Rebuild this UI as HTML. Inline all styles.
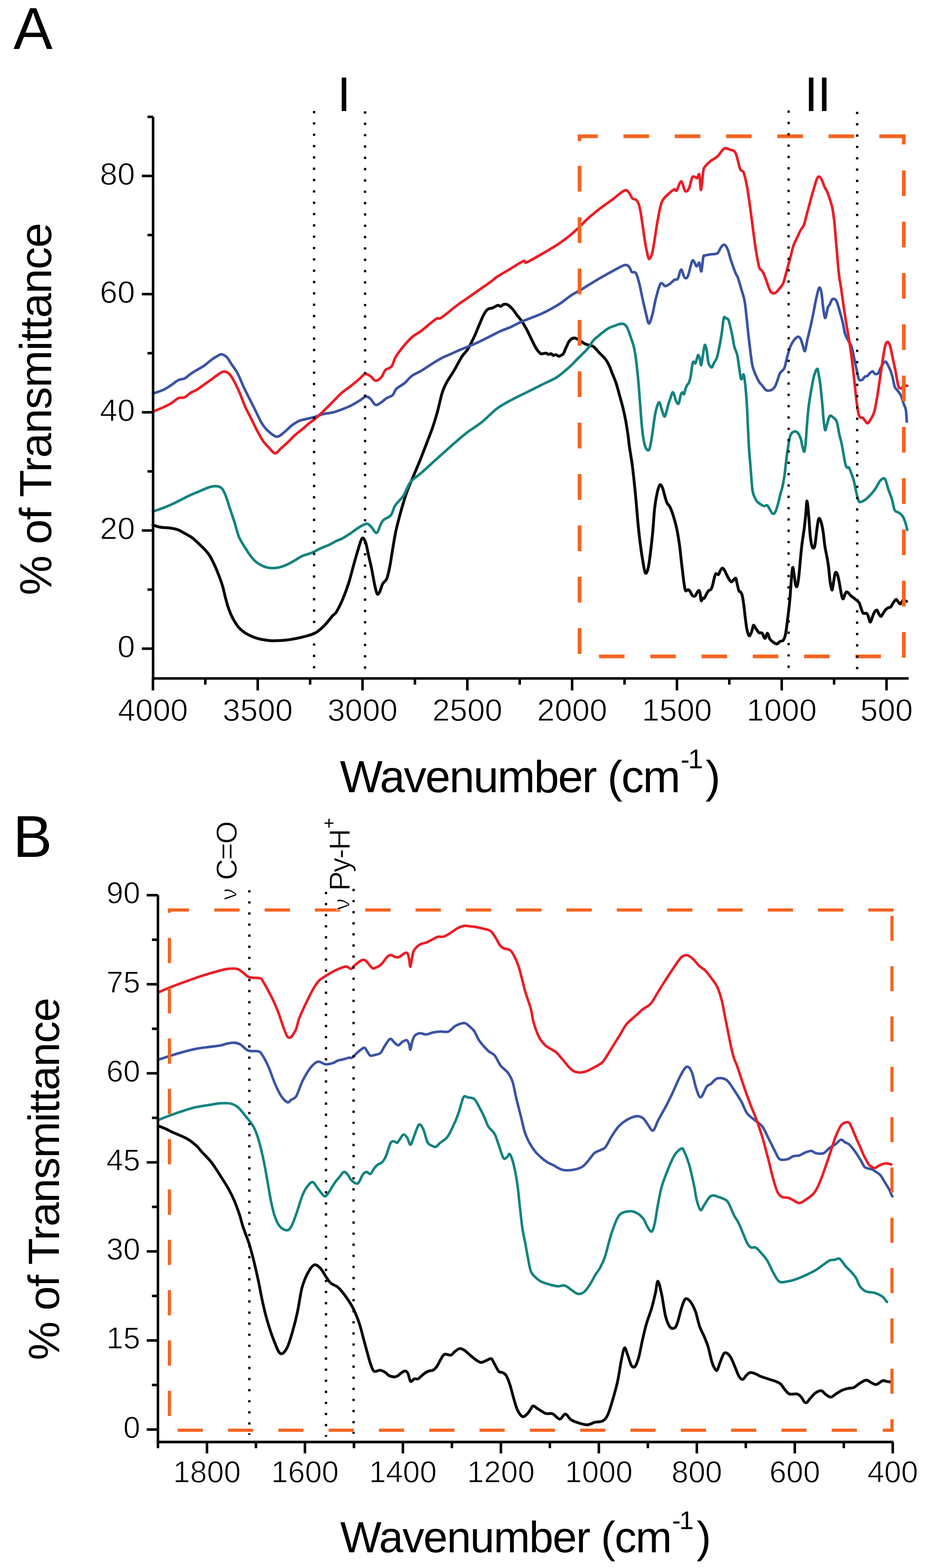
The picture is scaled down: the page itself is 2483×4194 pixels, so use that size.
<!DOCTYPE html>
<html><head><meta charset="utf-8"><title>FTIR spectra</title><style>html,body{margin:0;padding:0;background:#fff}svg{display:block}</style></head><body>
<svg xmlns="http://www.w3.org/2000/svg" width="2483" height="4194" viewBox="0 0 2483 4194">
<rect width="2483" height="4194" fill="#fff"/>
<path d="M409.0 1404.0 C412.4 1405.1 421.8 1408.8 429.3 1410.1 C436.7 1411.5 446.1 1411.1 453.5 1412.1 C460.9 1413.1 467.0 1413.8 473.7 1416.2 C480.5 1418.5 487.2 1422.6 493.9 1426.3 C500.7 1430.0 507.4 1433.4 514.2 1438.4 C520.9 1443.5 528.3 1450.9 534.4 1456.6 C540.4 1462.3 545.8 1467.4 550.6 1472.8 C555.3 1478.2 558.6 1482.2 562.7 1488.9 C566.7 1495.7 571.1 1505.1 574.8 1513.2 C578.5 1521.3 581.6 1528.7 584.9 1537.5 C588.3 1546.2 592.0 1555.7 595.0 1565.8 C598.1 1575.9 600.4 1588.0 603.1 1598.1 C605.8 1608.2 607.8 1617.0 611.2 1626.4 C614.6 1635.9 618.6 1646.0 623.3 1654.7 C628.0 1663.5 633.4 1672.2 639.5 1679.0 C645.6 1685.7 651.6 1690.4 659.7 1695.2 C667.8 1699.9 677.9 1704.2 688.0 1707.3 C698.1 1710.3 710.3 1712.3 720.4 1713.3 C730.5 1714.4 739.2 1713.8 748.7 1713.3 C758.1 1712.9 766.9 1712.1 777.0 1710.5 C787.1 1709.0 799.9 1706.3 809.3 1704.0 C818.8 1701.8 826.8 1699.7 833.6 1697.2 C840.3 1694.7 843.7 1693.5 849.7 1689.1 C855.8 1684.7 863.2 1678.0 870.0 1670.9 C876.7 1663.8 885.2 1652.3 890.2 1646.6 C895.2 1641.0 895.7 1643.9 900.0 1636.9 C904.3 1629.9 910.8 1617.2 916.2 1604.6 C921.6 1592.0 927.4 1576.7 932.3 1561.5 C937.3 1546.2 941.8 1527.3 945.8 1512.9 C949.9 1498.6 952.8 1487.3 956.6 1475.2 C960.4 1463.1 965.1 1444.2 968.7 1440.2 C972.3 1436.1 975.2 1443.3 978.2 1450.9 C981.1 1458.6 983.6 1474.3 986.3 1486.0 C988.9 1497.7 991.6 1508.0 994.3 1521.0 C997.0 1534.1 1000.0 1552.9 1002.4 1564.2 C1004.9 1575.4 1006.9 1585.3 1009.2 1588.4 C1011.4 1591.6 1013.4 1587.5 1015.9 1583.0 C1018.4 1578.5 1020.8 1567.3 1024.0 1561.5 C1027.1 1555.6 1031.6 1555.6 1034.8 1548.0 C1037.9 1540.3 1040.2 1529.1 1042.9 1515.6 C1045.6 1502.2 1048.2 1482.8 1050.9 1467.1 C1053.6 1451.4 1055.9 1436.1 1059.0 1421.3 C1062.2 1406.5 1066.2 1391.6 1069.8 1378.2 C1073.4 1364.7 1077.0 1352.1 1080.6 1340.4 C1084.2 1328.8 1087.1 1319.2 1091.4 1308.1 C1095.6 1297.0 1100.3 1287.5 1106.1 1273.7 C1111.9 1259.8 1119.6 1242.0 1126.3 1225.2 C1133.0 1208.3 1141.1 1186.7 1146.5 1172.6 C1151.9 1158.4 1154.6 1152.4 1158.6 1140.2 C1162.7 1128.1 1166.7 1114.6 1170.8 1099.8 C1174.8 1085.0 1178.9 1064.1 1182.9 1051.3 C1186.9 1038.5 1189.6 1033.1 1195.0 1023.0 C1200.4 1012.9 1208.5 1002.1 1215.2 990.6 C1222.0 979.2 1229.4 963.7 1235.5 954.3 C1241.5 944.8 1245.9 943.3 1251.6 934.0 C1257.3 924.8 1264.4 910.2 1269.7 898.9 C1274.9 887.7 1279.1 876.0 1283.2 866.6 C1287.2 857.1 1290.4 848.8 1293.9 842.3 C1297.5 835.8 1300.7 830.6 1304.7 827.5 C1308.8 824.3 1313.7 825.2 1318.2 823.5 C1322.7 821.7 1328.1 817.4 1331.7 816.7 C1335.3 816.0 1337.1 819.9 1339.8 819.4 C1342.5 819.0 1344.7 814.7 1347.9 814.0 C1351.0 813.3 1354.6 813.1 1358.6 815.4 C1362.7 817.6 1368.1 823.0 1372.1 827.5 C1376.2 832.0 1379.3 837.6 1382.9 842.3 C1386.5 847.0 1389.6 850.0 1393.7 855.8 C1397.7 861.6 1402.7 869.3 1407.2 877.4 C1411.6 885.4 1416.1 895.3 1420.6 904.3 C1425.1 913.3 1430.1 924.5 1434.1 931.3 C1438.2 938.0 1442.2 942.2 1444.9 944.7 C1447.5 947.3 1447.3 946.3 1450.0 946.3 C1452.7 946.3 1458.3 944.5 1461.1 944.7 C1463.9 945.0 1464.6 947.8 1466.8 948.0 C1469.1 948.3 1472.3 945.7 1474.5 946.1 C1476.8 946.5 1478.1 950.1 1480.3 950.6 C1482.6 951.0 1485.5 948.4 1488.0 948.8 C1490.5 949.2 1493.2 952.9 1495.5 953.1 C1497.7 953.3 1499.8 951.0 1501.5 950.1 C1503.2 949.3 1504.2 949.4 1505.6 948.0 C1506.9 946.7 1508.5 944.3 1509.6 942.0 C1510.7 939.8 1511.0 937.7 1512.3 934.6 C1513.7 931.4 1516.3 926.3 1517.7 923.2 C1519.1 920.1 1519.0 918.7 1520.8 916.0 C1522.6 913.3 1525.6 909.0 1528.5 907.0 C1531.3 905.0 1534.7 904.1 1537.6 904.2 C1540.5 904.3 1543.2 906.2 1546.0 907.6 C1548.8 909.0 1551.4 910.7 1554.4 912.7 C1557.5 914.6 1561.2 917.7 1564.6 919.4 C1567.9 921.1 1570.8 921.5 1574.7 922.8 C1578.5 924.0 1583.9 924.9 1587.5 927.0 C1591.0 929.0 1593.5 932.3 1596.1 935.0 C1598.7 937.7 1599.0 938.7 1603.0 943.1 C1607.1 947.4 1615.7 955.1 1620.3 961.2 C1624.9 967.2 1627.8 973.2 1630.7 979.3 C1633.6 985.3 1634.7 990.0 1637.6 997.4 C1640.5 1004.8 1644.5 1013.1 1648.0 1023.5 C1651.5 1033.9 1655.2 1048.4 1658.4 1059.8 C1661.6 1071.2 1664.4 1081.2 1667.0 1091.9 C1669.6 1102.7 1671.7 1112.1 1674.0 1124.1 C1676.2 1136.2 1678.6 1152.1 1680.4 1164.1 C1682.1 1176.1 1682.5 1183.6 1684.3 1196.3 C1686.2 1209.0 1689.2 1225.8 1691.3 1240.6 C1693.3 1255.3 1694.7 1268.7 1696.4 1284.8 C1698.2 1300.9 1699.9 1318.4 1701.6 1337.1 C1703.4 1355.9 1705.1 1379.4 1706.8 1397.5 C1708.6 1415.6 1710.0 1429.7 1712.0 1445.8 C1714.0 1461.9 1716.5 1479.7 1718.9 1494.1 C1721.4 1508.5 1724.1 1528.3 1726.7 1532.3 C1729.3 1536.3 1732.1 1528.6 1734.5 1518.2 C1737.0 1507.8 1739.4 1486.0 1741.4 1469.9 C1743.4 1453.8 1744.9 1440.4 1746.6 1421.7 C1748.3 1402.9 1749.8 1374.7 1751.8 1357.3 C1753.8 1339.8 1756.4 1327.1 1758.7 1317.0 C1761.0 1307.0 1763.3 1298.9 1765.6 1296.9 C1767.9 1294.9 1770.3 1299.6 1772.6 1305.0 C1774.9 1310.3 1777.5 1322.4 1779.5 1329.1 C1781.5 1335.8 1782.4 1340.5 1784.7 1345.2 C1787.0 1349.9 1790.4 1351.2 1793.3 1357.3 C1796.2 1363.3 1799.1 1372.0 1802.0 1381.4 C1804.9 1390.8 1808.0 1401.5 1810.6 1413.6 C1813.2 1425.7 1815.5 1439.8 1817.5 1453.8 C1819.6 1467.9 1821.0 1483.4 1822.7 1498.1 C1824.5 1512.9 1826.6 1531.7 1827.9 1542.4 C1829.2 1553.0 1829.5 1555.8 1830.5 1562.1 C1831.6 1568.3 1832.4 1577.4 1834.3 1579.9 C1836.1 1582.5 1839.3 1576.7 1841.5 1577.2 C1843.6 1577.8 1845.6 1580.9 1847.2 1583.3 C1848.9 1585.7 1849.9 1589.7 1851.6 1591.7 C1853.2 1593.6 1855.6 1595.0 1857.3 1595.0 C1859.0 1595.0 1860.2 1593.6 1861.6 1591.7 C1863.1 1589.7 1864.5 1585.3 1866.0 1583.3 C1867.4 1581.2 1869.1 1578.7 1870.3 1579.3 C1871.5 1579.8 1872.2 1582.0 1873.2 1586.6 C1874.1 1591.2 1874.9 1604.5 1876.1 1606.8 C1877.3 1609.0 1878.9 1601.2 1880.4 1600.0 C1881.8 1598.9 1883.0 1602.0 1884.7 1600.0 C1886.4 1598.1 1888.6 1591.7 1890.5 1588.3 C1892.4 1585.0 1894.3 1581.9 1896.2 1579.9 C1898.2 1578.0 1900.3 1578.8 1902.0 1576.6 C1903.7 1574.3 1904.9 1571.3 1906.3 1566.5 C1907.8 1561.8 1909.2 1553.4 1910.7 1548.1 C1912.1 1542.8 1913.1 1536.5 1915.0 1534.7 C1916.9 1532.8 1920.3 1538.1 1922.2 1537.0 C1924.1 1535.9 1924.8 1530.9 1926.5 1527.9 C1928.2 1525.0 1930.4 1520.1 1932.3 1519.6 C1934.2 1519.0 1936.1 1521.8 1938.1 1524.6 C1940.0 1527.4 1941.7 1532.1 1943.8 1536.3 C1946.0 1540.5 1948.9 1546.4 1951.0 1549.7 C1953.2 1553.1 1954.9 1556.2 1956.8 1556.5 C1958.7 1556.7 1960.6 1553.1 1962.6 1551.4 C1964.5 1549.7 1966.9 1545.6 1968.3 1546.4 C1969.8 1547.2 1969.8 1550.9 1971.2 1556.5 C1972.7 1562.0 1975.3 1575.5 1977.0 1579.9 C1978.7 1584.4 1979.9 1581.3 1981.3 1583.3 C1982.7 1585.2 1984.2 1586.1 1985.6 1591.7 C1987.1 1597.3 1988.5 1606.5 1989.9 1616.8 C1991.4 1627.2 1992.8 1642.5 1994.3 1653.7 C1995.7 1664.9 1996.9 1676.1 1998.6 1683.9 C2000.3 1691.7 2002.4 1699.2 2004.4 1700.6 C2006.3 1702.0 2008.6 1695.6 2010.1 1692.3 C2011.7 1688.9 2012.5 1683.9 2013.6 1680.5 C2014.6 1677.2 2015.0 1672.1 2016.5 1672.1 C2017.9 1672.1 2019.8 1677.2 2022.2 1680.5 C2024.6 1683.9 2028.1 1690.1 2030.9 1692.3 C2033.7 1694.4 2036.2 1690.8 2038.8 1693.3 C2041.5 1695.8 2044.3 1707.2 2046.7 1707.4 C2049.2 1707.5 2051.1 1693.7 2053.2 1693.9 C2055.4 1694.2 2057.2 1705.1 2059.7 1709.0 C2062.2 1712.9 2065.2 1715.2 2068.4 1717.4 C2071.5 1719.6 2075.3 1722.7 2078.5 1722.4 C2081.6 1722.2 2084.2 1717.4 2087.1 1715.7 C2090.0 1714.1 2093.4 1715.5 2095.8 1712.4 C2098.2 1709.3 2099.6 1706.5 2101.5 1697.3 C2103.5 1688.1 2105.4 1672.1 2107.3 1657.1 C2109.2 1642.0 2111.4 1624.6 2113.1 1606.8 C2114.7 1588.9 2116.1 1564.6 2117.4 1549.7 C2118.7 1534.9 2119.8 1520.1 2121.0 1517.9 C2122.2 1515.7 2123.3 1528.5 2124.6 1536.3 C2125.9 1544.2 2127.5 1559.8 2128.9 1564.8 C2130.4 1569.9 2131.8 1570.7 2133.2 1566.5 C2134.7 1562.3 2136.1 1552.0 2137.6 1539.7 C2139.0 1527.4 2140.5 1507.3 2141.9 1492.7 C2143.3 1478.2 2144.5 1465.9 2146.2 1452.5 C2147.9 1439.1 2150.3 1425.7 2152.0 1412.3 C2153.7 1398.8 2155.1 1384.0 2156.3 1372.0 C2157.5 1360.0 2158.0 1339.6 2159.2 1340.2 C2160.4 1340.7 2162.1 1360.0 2163.5 1375.4 C2165.0 1390.7 2166.4 1418.4 2167.8 1432.4 C2169.3 1446.4 2170.7 1453.6 2172.2 1459.2 C2173.6 1464.8 2175.0 1466.5 2176.5 1465.9 C2177.9 1465.4 2179.1 1465.4 2180.8 1455.9 C2182.5 1446.4 2184.9 1420.4 2186.6 1408.9 C2188.3 1397.4 2189.2 1389.3 2190.9 1387.1 C2192.6 1384.9 2194.8 1389.6 2196.7 1395.5 C2198.6 1401.4 2200.8 1411.7 2202.4 1422.3 C2204.1 1432.9 2205.1 1448.0 2206.8 1459.2 C2208.4 1470.4 2210.8 1479.9 2212.5 1489.4 C2214.2 1498.9 2215.4 1505.0 2216.9 1516.2 C2218.3 1527.4 2219.7 1546.4 2221.2 1556.5 C2222.6 1566.5 2224.4 1573.5 2225.5 1576.6 C2226.6 1579.6 2226.7 1578.2 2227.5 1574.9 C2228.3 1571.5 2229.2 1563.4 2230.4 1556.5 C2231.6 1549.5 2233.3 1536.9 2234.7 1533.0 C2236.2 1529.1 2237.6 1530.7 2239.1 1533.0 C2240.5 1535.2 2241.9 1540.2 2243.4 1546.4 C2244.8 1552.5 2246.3 1562.0 2247.7 1569.9 C2249.1 1577.7 2250.6 1588.0 2252.0 1593.3 C2253.5 1598.6 2254.9 1602.3 2256.4 1601.7 C2257.8 1601.2 2259.2 1593.1 2260.7 1590.0 C2262.1 1586.9 2263.3 1583.8 2265.0 1583.3 C2266.7 1582.7 2268.8 1585.0 2270.8 1586.6 C2272.7 1588.3 2274.1 1591.1 2276.5 1593.3 C2278.9 1595.6 2282.3 1597.8 2285.2 1600.0 C2288.1 1602.3 2291.4 1604.5 2293.8 1606.8 C2296.2 1609.0 2297.9 1610.1 2299.6 1613.5 C2301.3 1616.8 2302.2 1622.4 2303.9 1626.9 C2305.6 1631.3 2307.3 1638.1 2309.7 1640.3 C2312.1 1642.5 2316.2 1639.2 2318.3 1640.3 C2320.5 1641.4 2321.0 1643.1 2322.7 1647.0 C2324.4 1650.9 2326.5 1663.2 2328.4 1663.8 C2330.4 1664.3 2332.3 1654.8 2334.2 1650.3 C2336.1 1645.9 2337.9 1640.0 2340.0 1636.9 C2342.0 1633.9 2344.5 1631.1 2346.5 1631.9 C2348.4 1632.7 2349.7 1639.2 2351.5 1642.0 C2353.3 1644.8 2355.3 1648.9 2357.3 1648.7 C2359.2 1648.4 2360.9 1643.4 2363.0 1640.3 C2365.2 1637.2 2367.8 1632.7 2370.2 1630.2 C2372.6 1627.7 2375.3 1626.3 2377.4 1625.2 C2379.6 1624.1 2381.1 1625.8 2383.2 1623.5 C2385.4 1621.3 2388.0 1615.1 2390.4 1611.8 C2392.8 1608.4 2395.5 1603.7 2397.6 1603.4 C2399.8 1603.1 2401.5 1608.1 2403.4 1610.1 C2405.3 1612.1 2407.0 1616.0 2409.2 1615.1 C2411.3 1614.3 2414.4 1606.5 2416.4 1605.1 C2418.3 1603.7 2419.1 1606.2 2420.7 1606.8 C2422.3 1607.3 2424.9 1608.1 2425.7 1608.4" fill="none" stroke="#0a0a0a" stroke-width="7.7" stroke-linejoin="round" stroke-linecap="round"/>
<path d="M409.0 1368.3 C413.8 1366.6 428.6 1361.6 437.3 1358.2 C446.1 1354.9 453.5 1351.8 461.6 1348.1 C469.7 1344.4 477.8 1340.0 485.9 1336.0 C493.9 1331.9 502.0 1327.6 510.1 1323.9 C518.2 1320.2 526.3 1317.1 534.4 1313.7 C542.5 1310.4 551.2 1305.9 558.6 1303.6 C566.1 1301.4 573.1 1300.1 578.9 1300.4 C584.6 1300.7 589.0 1301.8 593.0 1305.7 C597.1 1309.6 599.4 1314.8 603.1 1323.9 C606.8 1333.0 611.2 1348.1 615.2 1360.2 C619.3 1372.4 623.3 1383.9 627.4 1396.6 C631.4 1409.3 634.8 1425.0 639.5 1436.4 C644.2 1447.7 650.3 1455.9 655.7 1464.7 C661.1 1473.5 666.5 1482.2 671.8 1488.9 C677.2 1495.7 681.3 1500.4 688.0 1505.1 C694.8 1509.8 704.2 1514.9 712.3 1517.3 C720.4 1519.6 728.5 1519.9 736.5 1519.3 C744.6 1518.6 752.7 1516.2 760.8 1513.2 C768.9 1510.2 777.0 1505.5 785.1 1501.1 C793.1 1496.7 801.2 1490.6 809.3 1486.9 C817.4 1483.2 825.5 1482.2 833.6 1478.8 C841.7 1475.5 849.7 1470.4 857.8 1466.7 C865.9 1463.0 875.1 1459.9 882.1 1456.6 C889.1 1453.3 894.3 1449.6 900.0 1446.9 C905.7 1444.2 909.9 1443.5 916.2 1440.2 C922.5 1436.8 931.0 1431.2 937.7 1426.7 C944.5 1422.2 950.8 1417.0 956.6 1413.2 C962.4 1409.4 968.3 1405.8 972.8 1403.8 C977.3 1401.8 980.0 1400.0 983.6 1401.1 C987.2 1402.2 990.3 1406.5 994.3 1410.5 C998.4 1414.6 1003.8 1426.7 1007.8 1425.3 C1011.9 1424.0 1015.5 1408.3 1018.6 1402.4 C1021.7 1396.6 1022.2 1394.3 1026.7 1390.3 C1031.2 1386.3 1040.6 1384.2 1045.6 1378.2 C1050.5 1372.1 1052.7 1360.2 1056.3 1353.9 C1059.9 1347.6 1063.1 1345.4 1067.1 1340.4 C1071.2 1335.5 1075.4 1332.7 1080.6 1324.3 C1085.7 1315.8 1090.4 1299.6 1098.0 1289.8 C1105.6 1280.1 1114.8 1275.7 1126.3 1265.6 C1137.8 1255.5 1153.2 1241.3 1166.7 1229.2 C1180.2 1217.1 1193.7 1204.6 1207.2 1192.8 C1220.6 1181.0 1234.1 1168.9 1247.6 1158.4 C1261.1 1148.0 1274.5 1140.9 1288.0 1130.1 C1301.5 1119.4 1315.0 1103.9 1328.5 1093.7 C1341.9 1083.6 1355.4 1076.9 1368.9 1069.5 C1382.4 1062.1 1395.8 1056.0 1409.3 1049.3 C1422.8 1042.5 1436.3 1035.8 1449.7 1029.1 C1463.2 1022.3 1478.1 1016.6 1490.2 1008.8 C1502.3 1001.1 1513.1 991.0 1522.5 982.6 C1532.0 974.1 1538.7 966.4 1546.8 958.3 C1554.9 950.2 1564.3 941.9 1571.0 934.0 C1577.8 926.2 1582.3 916.9 1587.2 911.1 C1592.0 905.3 1595.6 903.2 1600.2 899.3 C1604.8 895.3 1609.9 891.1 1614.7 887.5 C1619.6 883.8 1623.9 880.1 1629.2 877.3 C1634.6 874.5 1641.8 872.4 1646.6 870.6 C1651.5 868.8 1654.4 867.1 1658.2 866.5 C1662.1 866.0 1666.5 865.4 1669.9 867.2 C1673.2 869.0 1675.7 871.7 1678.6 877.3 C1681.5 883.0 1684.4 892.5 1687.3 901.0 C1690.2 909.4 1693.5 917.8 1696.0 927.9 C1698.4 938.1 1699.8 947.1 1701.8 961.7 C1703.7 976.3 1705.9 997.7 1707.6 1015.7 C1709.3 1033.7 1710.5 1051.1 1711.9 1069.6 C1713.4 1088.2 1714.8 1110.7 1716.3 1127.0 C1717.7 1143.3 1718.9 1156.2 1720.6 1167.5 C1722.3 1178.7 1724.1 1188.3 1726.4 1194.5 C1728.7 1200.7 1732.2 1204.6 1734.4 1204.6 C1736.6 1204.6 1737.7 1201.8 1739.5 1194.5 C1741.3 1187.2 1743.1 1174.8 1745.3 1160.7 C1747.4 1146.7 1750.3 1122.5 1752.5 1110.1 C1754.7 1097.8 1756.4 1092.1 1758.3 1086.5 C1760.3 1080.9 1762.2 1075.3 1764.1 1076.4 C1766.1 1077.5 1767.8 1087.1 1769.9 1093.3 C1772.1 1099.4 1775.2 1111.3 1777.2 1113.5 C1779.1 1115.8 1779.6 1112.4 1781.5 1106.8 C1783.5 1101.1 1786.6 1087.1 1788.8 1079.8 C1791.0 1072.5 1792.8 1068.0 1794.6 1062.9 C1796.4 1057.8 1798.1 1050.5 1799.7 1049.4 C1801.2 1048.3 1802.6 1052.5 1804.0 1056.1 C1805.5 1059.8 1806.4 1067.4 1808.4 1071.3 C1810.3 1075.3 1813.4 1082.3 1815.6 1079.8 C1817.8 1077.2 1819.7 1061.2 1821.4 1056.1 C1823.1 1051.1 1824.3 1049.7 1825.8 1049.4 C1827.2 1049.1 1828.7 1056.1 1830.1 1054.5 C1831.6 1052.8 1833.0 1043.5 1834.5 1039.3 C1835.9 1035.1 1837.4 1031.7 1838.8 1029.2 C1840.3 1026.6 1841.7 1027.5 1843.2 1024.1 C1844.6 1020.7 1845.8 1017.6 1847.5 1008.9 C1849.2 1000.2 1851.6 978.5 1853.3 971.8 C1855.0 965.1 1856.5 968.4 1857.7 968.4 C1858.9 968.4 1859.6 972.6 1860.6 971.8 C1861.5 971.0 1862.3 967.0 1863.5 963.4 C1864.7 959.7 1866.4 950.7 1867.8 949.9 C1869.3 949.0 1870.9 953.8 1872.2 958.3 C1873.5 962.8 1874.6 976.9 1875.8 976.9 C1877.0 976.9 1878.1 965.9 1879.4 958.3 C1880.8 950.7 1882.6 937.2 1883.8 931.3 C1885.0 925.4 1885.5 921.8 1886.7 922.9 C1887.9 924.0 1889.6 930.2 1891.0 938.1 C1892.5 945.9 1893.9 963.4 1895.4 970.1 C1896.8 976.9 1898.2 976.5 1899.7 978.5 C1901.3 980.6 1903.1 983.7 1904.8 982.6 C1906.5 981.5 1907.6 976.4 1909.9 971.8 C1912.2 967.2 1915.7 964.5 1918.6 954.9 C1921.5 945.4 1925.1 925.7 1927.3 914.4 C1929.5 903.2 1930.1 898.1 1931.6 887.5 C1933.2 876.8 1935.0 856.4 1936.7 850.3 C1938.4 844.3 1939.7 850.2 1941.8 851.0 C1943.9 851.9 1946.9 851.0 1949.0 855.4 C1951.2 859.8 1952.9 869.2 1954.9 877.3 C1956.8 885.5 1959.0 895.9 1960.7 904.3 C1962.3 912.8 1963.1 920.6 1965.0 927.9 C1966.9 935.3 1970.3 940.3 1972.3 948.2 C1974.2 956.1 1974.9 964.5 1976.6 975.2 C1978.3 985.9 1980.7 1006.7 1982.4 1012.3 C1984.1 1017.9 1985.6 1010.6 1986.8 1008.9 C1988.0 1007.2 1988.5 998.8 1989.7 1002.2 C1990.9 1005.5 1992.6 1015.7 1994.0 1029.2 C1995.5 1042.7 1997.2 1064.0 1998.4 1083.1 C1999.6 1102.3 2000.3 1124.2 2001.3 1143.9 C2002.2 1163.5 2003.2 1185.6 2004.2 1201.2 C2005.2 1216.9 2006.3 1225.6 2007.2 1237.9 C2008.2 1250.1 2009.1 1262.2 2010.1 1274.8 C2011.2 1287.4 2012.2 1304.3 2013.7 1313.4 C2015.2 1322.5 2016.9 1324.8 2018.9 1329.5 C2020.9 1334.2 2022.9 1338.2 2025.8 1341.6 C2028.7 1344.9 2033.0 1347.6 2036.2 1349.6 C2039.4 1351.6 2042.1 1353.3 2044.8 1353.6 C2047.6 1354.0 2050.0 1350.0 2052.6 1351.6 C2055.2 1353.3 2058.0 1360.0 2060.4 1363.7 C2062.9 1367.4 2065.0 1372.8 2067.3 1373.8 C2069.6 1374.8 2072.0 1373.8 2074.3 1369.7 C2076.6 1365.7 2078.9 1357.7 2081.2 1349.6 C2083.5 1341.6 2086.1 1328.9 2088.1 1321.4 C2090.0 1314.0 2091.1 1312.7 2092.9 1305.0 C2094.6 1297.2 2097.0 1285.9 2098.6 1274.8 C2100.3 1263.6 2101.5 1249.6 2103.0 1237.9 C2104.4 1226.1 2105.3 1216.6 2107.3 1204.3 C2109.3 1192.1 2111.9 1172.5 2115.1 1164.1 C2118.4 1155.7 2123.3 1154.8 2126.7 1154.0 C2130.1 1153.1 2132.8 1155.7 2135.4 1159.0 C2138.1 1162.4 2140.7 1168.3 2142.7 1174.2 C2144.6 1180.1 2145.5 1188.9 2147.0 1194.5 C2148.6 1200.1 2150.7 1209.7 2152.1 1208.0 C2153.6 1206.3 2154.6 1195.0 2155.7 1184.4 C2156.8 1173.7 2157.4 1159.0 2158.6 1143.9 C2159.8 1128.7 2161.5 1106.8 2163.0 1093.3 C2164.4 1079.8 2165.6 1073.6 2167.3 1062.9 C2169.0 1052.2 2171.2 1039.3 2173.1 1029.2 C2175.1 1019.0 2176.8 1009.2 2178.9 1002.2 C2181.1 995.1 2184.5 988.4 2186.2 987.0 C2187.9 985.6 2187.6 986.7 2189.1 993.7 C2190.5 1000.8 2193.0 1013.7 2194.9 1029.2 C2196.8 1044.6 2199.2 1070.8 2200.7 1086.5 C2202.1 1102.3 2202.4 1112.9 2203.6 1123.6 C2204.8 1134.3 2206.5 1148.4 2207.9 1150.6 C2209.4 1152.9 2210.6 1142.7 2212.3 1137.1 C2214.0 1131.5 2216.4 1121.1 2218.1 1116.9 C2219.8 1112.7 2220.9 1112.1 2222.4 1111.8 C2224.0 1111.5 2226.0 1114.1 2227.5 1115.2 C2229.1 1116.3 2229.9 1116.3 2231.9 1118.6 C2233.8 1120.8 2236.7 1121.1 2239.1 1128.7 C2241.5 1136.3 2244.2 1154.9 2246.2 1164.1 C2248.3 1173.4 2249.7 1176.2 2251.4 1184.2 C2253.1 1192.3 2254.9 1203.0 2256.6 1212.4 C2258.3 1221.8 2260.2 1234.2 2261.8 1240.6 C2263.4 1246.9 2264.5 1249.0 2266.1 1250.6 C2267.7 1252.3 2269.4 1248.3 2271.3 1250.6 C2273.2 1253.0 2275.2 1259.0 2277.3 1264.7 C2279.5 1270.4 2282.0 1276.1 2284.3 1284.8 C2286.6 1293.6 2288.9 1307.6 2291.2 1317.0 C2293.5 1326.4 2295.5 1337.1 2298.1 1341.2 C2300.7 1345.2 2303.6 1342.2 2306.8 1341.2 C2309.9 1340.2 2313.7 1337.8 2317.1 1335.1 C2320.6 1332.4 2323.8 1329.1 2327.5 1325.1 C2331.3 1321.0 2336.2 1315.7 2339.6 1311.0 C2343.1 1306.3 2345.6 1301.3 2348.3 1296.9 C2351.0 1292.5 2352.7 1287.5 2355.9 1284.8 C2359.1 1282.2 2364.0 1276.8 2367.6 1280.9 C2371.1 1285.1 2374.0 1300.5 2377.2 1309.7 C2380.4 1318.8 2383.9 1326.8 2386.7 1336.0 C2389.5 1345.2 2390.7 1358.7 2393.9 1364.7 C2397.1 1370.7 2402.3 1369.1 2405.9 1371.9 C2409.5 1374.7 2412.7 1377.1 2415.5 1381.5 C2418.3 1385.9 2420.7 1392.3 2422.6 1398.2 C2424.6 1404.2 2426.6 1414.2 2427.4 1417.4" fill="none" stroke="#14837f" stroke-width="7" stroke-linejoin="round" stroke-linecap="round"/>
<path d="M409.0 1052.7 C413.8 1051.0 429.3 1046.3 437.3 1042.6 C445.4 1038.9 450.8 1034.8 457.6 1030.5 C464.3 1026.1 471.7 1019.3 477.8 1016.3 C483.8 1013.3 488.6 1015.0 493.9 1012.3 C499.3 1009.6 504.7 1003.8 510.1 1000.1 C515.5 996.4 520.2 993.7 526.3 990.0 C532.4 986.3 539.8 982.6 546.5 977.9 C553.2 973.2 560.7 966.1 566.7 961.7 C572.8 957.3 578.5 954.0 582.9 951.6 C587.3 949.3 589.0 946.9 593.0 947.6 C597.1 948.2 602.8 951.3 607.2 955.7 C611.5 960.0 614.6 966.8 619.3 973.9 C624.0 980.9 630.1 988.0 635.5 998.1 C640.9 1008.2 646.2 1023.0 651.6 1034.5 C657.0 1046.0 662.4 1056.1 667.8 1066.8 C673.2 1077.6 678.6 1088.4 684.0 1099.2 C689.4 1110.0 694.8 1122.8 700.2 1131.5 C705.5 1140.3 709.6 1145.7 716.3 1151.8 C723.1 1157.8 733.2 1167.3 740.6 1167.9 C748.0 1168.6 754.1 1160.9 760.8 1155.8 C767.5 1150.7 774.3 1142.7 781.0 1137.6 C787.8 1132.6 793.8 1128.5 801.2 1125.5 C808.6 1122.4 818.8 1121.1 825.5 1119.4 C832.2 1117.7 834.9 1117.4 841.7 1115.4 C848.4 1113.3 857.8 1109.3 865.9 1107.3 C874.0 1105.3 882.1 1105.3 890.2 1103.2 C898.3 1101.2 906.4 1098.2 914.4 1095.2 C922.5 1092.1 930.6 1089.1 938.7 1085.0 C946.8 1081.0 956.2 1074.9 963.0 1070.9 C969.7 1066.8 974.4 1061.5 979.1 1060.8 C983.8 1060.1 986.9 1063.1 991.3 1066.8 C995.6 1070.6 1000.1 1081.5 1005.0 1083.0 C1009.9 1084.5 1015.8 1078.9 1020.6 1075.9 C1025.5 1072.9 1029.2 1068.2 1034.1 1065.1 C1039.1 1061.9 1045.8 1061.3 1050.3 1057.0 C1054.8 1052.7 1055.7 1044.9 1061.1 1039.5 C1066.5 1034.1 1075.9 1030.3 1082.6 1024.7 C1089.4 1019.0 1093.9 1011.4 1101.5 1005.8 C1109.1 1000.2 1119.5 996.4 1128.5 991.0 C1137.4 985.6 1146.4 979.1 1155.4 973.5 C1164.4 967.8 1174.1 961.6 1182.4 957.3 C1190.6 952.9 1196.7 951.1 1205.0 947.4 C1213.3 943.8 1223.0 939.1 1232.0 935.3 C1240.9 931.5 1249.9 928.3 1258.9 924.5 C1267.9 920.7 1276.0 917.1 1285.9 912.4 C1295.7 907.7 1309.2 900.7 1318.2 896.2 C1327.2 891.7 1331.7 889.0 1339.8 885.4 C1347.9 881.9 1357.7 878.7 1366.7 874.7 C1375.7 870.6 1384.7 865.2 1393.7 861.2 C1402.7 857.1 1411.6 854.0 1420.6 850.4 C1429.6 846.8 1438.6 843.7 1447.6 839.6 C1456.6 835.6 1465.6 831.1 1474.5 826.1 C1483.5 821.2 1492.5 816.0 1501.5 810.0 C1510.5 803.9 1520.4 795.1 1528.5 789.8 C1536.5 784.4 1541.4 782.7 1550.0 777.6 C1558.6 772.5 1569.9 765.3 1580.0 759.2 C1590.1 753.1 1600.2 746.8 1610.3 741.0 C1620.4 735.2 1630.5 729.6 1640.6 724.3 C1650.8 719.0 1663.9 710.9 1671.0 709.2 C1678.0 707.4 1679.8 710.7 1683.1 713.7 C1686.4 716.7 1687.6 724.6 1690.7 727.4 C1693.7 730.1 1698.0 725.3 1701.3 730.4 C1704.6 735.4 1707.4 746.1 1710.4 757.7 C1713.4 769.3 1716.5 786.5 1719.5 800.1 C1722.5 813.8 1725.8 828.7 1728.6 839.6 C1731.4 850.4 1733.4 864.8 1736.2 865.3 C1738.9 865.8 1742.2 853.5 1745.3 842.6 C1748.3 831.7 1751.1 813.3 1754.4 800.1 C1757.6 787.0 1762.2 770.8 1765.0 763.7 C1767.8 756.7 1768.5 757.4 1771.0 757.7 C1773.6 757.9 1776.6 765.0 1780.1 765.3 C1783.7 765.5 1788.2 762.0 1792.3 759.2 C1796.3 756.4 1800.9 750.9 1804.4 748.6 C1807.9 746.3 1810.5 750.1 1813.5 745.6 C1816.5 741.0 1819.6 721.8 1822.6 721.3 C1825.6 720.8 1828.7 739.7 1831.7 742.5 C1834.7 745.3 1837.2 745.6 1840.8 738.0 C1844.3 730.4 1849.1 701.3 1852.9 697.0 C1856.7 692.7 1860.5 711.2 1863.5 712.2 C1866.6 713.2 1868.9 700.8 1871.1 703.1 C1873.3 705.4 1874.8 728.4 1876.6 725.8 C1878.3 723.3 1880.1 695.0 1881.7 687.9 C1883.3 680.9 1883.0 684.7 1886.3 683.4 C1889.5 682.1 1895.9 681.4 1901.4 680.4 C1907.0 679.3 1915.1 680.4 1919.6 677.3 C1924.2 674.3 1925.7 666.0 1928.7 662.2 C1931.7 658.4 1934.8 653.8 1937.8 654.6 C1940.8 655.3 1943.9 659.6 1946.9 666.7 C1949.9 673.8 1952.5 686.4 1956.0 697.0 C1959.5 707.6 1965.1 722.8 1968.1 730.4 C1971.2 738.0 1971.7 735.4 1974.2 742.5 C1976.7 749.6 1980.3 762.2 1983.3 772.8 C1986.3 783.5 1989.9 792.0 1992.4 806.2 C1994.9 820.3 1996.7 842.1 1998.5 857.7 C2000.2 873.4 2000.8 881.0 2003.0 899.9 C2005.3 918.8 2009.3 955.3 2012.0 971.2 C2014.6 987.1 2016.6 988.7 2018.9 995.4 C2021.2 1002.1 2023.5 1006.8 2025.8 1011.5 C2028.1 1016.2 2030.4 1020.2 2032.7 1023.5 C2035.0 1026.9 2036.8 1028.2 2039.7 1031.6 C2042.5 1034.9 2046.3 1041.6 2050.0 1043.7 C2053.8 1045.7 2058.4 1045.0 2062.1 1043.7 C2065.9 1042.3 2069.6 1039.6 2072.5 1035.6 C2075.4 1031.6 2077.1 1025.6 2079.4 1019.5 C2081.8 1013.5 2084.1 1004.1 2086.4 999.4 C2088.7 994.7 2091.2 994.0 2093.3 991.3 C2095.4 988.7 2097.0 989.3 2099.2 983.3 C2101.3 977.3 2103.5 964.5 2106.1 955.1 C2108.7 945.7 2111.6 934.7 2114.7 927.0 C2117.9 919.2 2121.7 913.2 2125.1 908.9 C2128.6 904.5 2132.6 901.1 2135.5 900.8 C2138.4 900.5 2140.4 903.2 2142.4 906.8 C2144.4 910.5 2145.7 917.6 2147.6 922.9 C2149.5 928.3 2151.6 941.0 2153.7 939.0 C2155.7 937.0 2157.3 921.6 2159.7 910.9 C2162.2 900.1 2165.8 886.1 2168.4 874.6 C2171.0 863.2 2172.7 855.2 2175.3 842.5 C2177.9 829.7 2181.2 810.3 2183.9 798.2 C2186.7 786.1 2189.4 772.7 2191.7 770.0 C2194.0 767.3 2195.9 772.7 2197.8 782.1 C2199.6 791.5 2201.2 815.0 2203.0 826.4 C2204.7 837.8 2206.1 851.2 2208.2 850.5 C2210.2 849.8 2213.1 828.4 2215.1 822.3 C2217.1 816.3 2218.2 818.0 2220.3 814.3 C2222.3 810.6 2224.3 801.9 2227.2 800.2 C2230.1 798.5 2234.4 799.2 2237.6 804.2 C2240.7 809.3 2243.3 820.7 2246.2 830.4 C2249.1 840.1 2252.3 851.8 2254.9 862.6 C2257.5 873.3 2258.5 885.4 2261.8 894.8 C2265.0 904.2 2271.4 912.9 2274.4 918.9 C2277.4 924.9 2277.6 923.6 2279.6 931.0 C2281.6 938.4 2284.2 952.4 2286.5 963.2 C2288.8 973.9 2291.4 986.7 2293.4 995.4 C2295.5 1004.1 2296.3 1012.1 2298.6 1015.5 C2300.9 1018.8 2304.7 1016.8 2307.3 1015.5 C2309.9 1014.2 2311.9 1009.1 2314.2 1007.4 C2316.5 1005.8 2318.8 1007.1 2321.1 1005.4 C2323.4 1003.8 2325.7 999.4 2328.0 997.4 C2330.4 995.4 2332.9 993.0 2335.0 993.4 C2337.0 993.7 2337.8 998.4 2340.2 999.4 C2342.5 1000.4 2346.2 1001.7 2348.8 999.4 C2351.4 997.0 2352.6 990.7 2355.7 985.3 C2358.9 980.0 2364.0 968.3 2367.6 967.3 C2371.2 966.3 2374.0 973.3 2377.2 979.3 C2380.4 985.3 2383.9 994.0 2386.7 1003.2 C2389.5 1012.4 2391.5 1027.6 2393.9 1034.3 C2396.3 1041.1 2398.3 1039.9 2401.1 1043.9 C2403.9 1047.9 2407.9 1052.3 2410.7 1058.3 C2413.5 1064.3 2415.7 1073.4 2417.9 1079.8 C2420.1 1086.2 2422.4 1088.6 2423.8 1096.6 C2425.2 1104.6 2425.8 1122.5 2426.2 1127.7" fill="none" stroke="#3a53a4" stroke-width="7" stroke-linejoin="round" stroke-linecap="round"/>
<path d="M409.0 1101.2 C413.8 1099.2 429.3 1092.8 437.3 1089.1 C445.4 1085.4 450.8 1083.0 457.6 1079.0 C464.3 1074.9 471.7 1067.5 477.8 1064.8 C483.8 1062.1 488.6 1065.2 493.9 1062.8 C499.3 1060.4 504.7 1054.0 510.1 1050.7 C515.5 1047.3 520.2 1046.3 526.3 1042.6 C532.4 1038.9 539.8 1033.2 546.5 1028.4 C553.2 1023.7 560.7 1018.7 566.7 1014.3 C572.8 1009.9 577.8 1005.5 582.9 1002.2 C588.0 998.8 592.3 994.7 597.1 994.1 C601.8 993.4 606.8 994.7 611.2 998.1 C615.6 1001.5 618.6 1006.2 623.3 1014.3 C628.0 1022.4 634.1 1034.5 639.5 1046.6 C644.9 1058.8 650.3 1074.9 655.7 1087.1 C661.1 1099.2 666.5 1108.6 671.8 1119.4 C677.2 1130.2 682.6 1141.6 688.0 1151.8 C693.4 1161.9 698.8 1172.3 704.2 1180.1 C709.6 1187.8 715.0 1192.9 720.4 1198.3 C725.8 1203.6 731.1 1212.4 736.5 1212.4 C741.9 1212.4 747.3 1203.0 752.7 1198.3 C758.1 1193.5 762.8 1189.8 768.9 1184.1 C775.0 1178.4 782.4 1170.0 789.1 1163.9 C795.8 1157.8 803.3 1152.8 809.3 1147.7 C815.4 1142.7 820.1 1137.9 825.5 1133.6 C830.9 1129.2 834.9 1127.2 841.7 1121.4 C848.4 1115.7 857.8 1106.9 865.9 1099.2 C874.0 1091.4 882.1 1083.0 890.2 1074.9 C898.3 1066.8 906.4 1057.8 914.4 1050.7 C922.5 1043.6 930.6 1038.9 938.7 1032.5 C946.8 1026.1 956.6 1017.7 963.0 1012.3 C969.4 1006.9 972.4 1001.1 977.1 1000.1 C981.8 999.1 986.6 1003.2 991.3 1006.2 C995.9 1009.2 1000.1 1018.0 1005.0 1018.3 C1009.9 1018.7 1016.2 1013.3 1020.6 1008.5 C1025.0 1003.7 1026.9 994.3 1031.4 989.6 C1035.9 984.9 1042.6 986.8 1047.6 980.2 C1052.6 973.6 1053.2 962.3 1061.6 949.9 C1070.0 937.5 1087.2 916.5 1098.0 905.8 C1108.8 895.1 1114.8 894.3 1126.3 885.6 C1137.8 876.8 1157.7 859.2 1166.7 853.2 C1175.8 847.3 1171.1 856.0 1180.5 849.9 C1189.8 843.8 1210.8 825.9 1222.9 816.8 C1235.0 807.8 1243.1 802.7 1253.2 795.6 C1263.3 788.5 1273.4 781.5 1283.6 774.4 C1293.7 767.3 1306.3 758.7 1313.9 753.2 C1321.5 747.6 1321.5 746.1 1329.0 741.0 C1336.6 736.0 1347.5 729.9 1359.4 722.8 C1371.2 715.8 1391.7 702.1 1400.0 698.6 C1408.3 695.0 1401.0 704.8 1409.3 701.6 C1417.6 698.4 1436.3 687.1 1449.7 679.4 C1463.2 671.6 1478.7 662.5 1490.2 655.1 C1501.6 647.7 1509.0 642.3 1518.5 634.9 C1527.9 627.5 1538.0 618.7 1546.8 610.6 C1555.5 602.6 1561.3 595.1 1571.0 586.4 C1580.7 577.6 1593.4 567.1 1605.0 558.1 C1616.6 549.1 1629.7 540.3 1640.6 532.2 C1651.6 524.1 1663.9 512.3 1671.0 509.5 C1678.0 506.7 1679.6 512.0 1683.1 515.6 C1686.6 519.1 1688.7 527.2 1692.2 530.7 C1695.7 534.3 1700.8 531.2 1704.3 536.8 C1707.9 542.3 1709.8 545.7 1713.4 564.1 C1717.0 582.5 1722.8 628.2 1725.9 647.1 C1728.9 666.1 1730.2 669.9 1731.9 677.5 C1733.7 685.1 1734.5 692.1 1736.5 692.6 C1738.5 693.1 1741.8 687.6 1744.1 680.5 C1746.3 673.4 1747.6 664.8 1750.1 650.2 C1752.6 635.5 1755.7 611.0 1759.2 592.6 C1762.7 574.2 1765.5 552.6 1771.0 539.8 C1776.5 527.0 1786.7 521.1 1792.3 515.6 C1797.8 510.0 1801.4 507.5 1804.4 506.5 C1807.4 505.4 1807.4 513.0 1810.5 509.5 C1813.5 505.9 1818.8 485.0 1822.6 485.2 C1826.4 485.5 1829.7 508.0 1833.2 511.0 C1836.7 514.0 1840.5 509.7 1843.8 503.4 C1847.1 497.1 1849.4 477.6 1852.9 473.1 C1856.4 468.6 1862.0 477.1 1865.0 476.1 C1868.1 475.1 1869.3 461.7 1871.1 467.0 C1872.9 472.3 1873.9 509.5 1875.7 508.0 C1877.4 506.5 1879.9 468.3 1881.7 457.9 C1883.5 447.6 1883.0 450.4 1886.3 445.8 C1889.5 441.3 1895.9 435.2 1901.4 430.6 C1907.0 426.1 1913.6 424.1 1919.6 418.5 C1925.7 413.0 1932.3 400.3 1937.8 397.3 C1943.4 394.3 1947.9 398.3 1953.0 400.3 C1958.0 402.3 1963.6 400.8 1968.1 409.4 C1972.7 418.0 1976.7 443.3 1980.3 451.9 C1983.8 460.5 1986.3 453.4 1989.4 461.0 C1992.4 468.6 1995.4 481.2 1998.5 497.4 C2001.5 513.5 2004.5 536.3 2007.6 558.0 C2010.6 579.7 2014.1 609.1 2016.7 627.7 C2019.2 646.4 2020.3 655.6 2022.7 669.9 C2025.1 684.2 2028.7 705.0 2031.0 713.7 C2033.3 722.4 2034.9 719.3 2036.8 722.1 C2038.7 725.0 2040.4 726.1 2042.6 730.6 C2044.8 735.1 2047.4 742.7 2049.9 749.1 C2052.3 755.6 2054.9 764.0 2057.1 769.4 C2059.3 774.7 2060.7 778.7 2062.9 781.2 C2065.1 783.7 2067.7 784.6 2070.2 784.6 C2072.6 784.6 2074.7 783.4 2077.4 781.2 C2080.1 778.9 2083.2 774.7 2086.1 771.1 C2089.0 767.4 2092.6 763.4 2094.8 759.3 C2097.0 755.1 2097.0 753.7 2099.2 746.2 C2101.3 738.6 2104.9 724.7 2107.8 714.0 C2110.7 703.2 2113.9 691.5 2116.5 681.8 C2119.1 672.0 2120.5 663.7 2123.4 655.6 C2126.3 647.6 2130.6 640.2 2133.8 633.5 C2136.9 626.8 2139.5 620.7 2142.4 615.4 C2145.3 610.0 2148.2 609.0 2151.1 601.3 C2153.9 593.6 2156.8 579.8 2159.7 569.1 C2162.6 558.4 2165.5 547.3 2168.4 536.9 C2171.2 526.5 2174.1 516.4 2177.0 506.7 C2179.9 497.0 2183.1 484.3 2185.7 478.5 C2188.3 472.8 2190.3 471.8 2192.6 472.5 C2194.9 473.2 2197.2 477.9 2199.5 482.6 C2201.8 487.3 2204.1 495.7 2206.4 500.7 C2208.7 505.7 2211.0 507.4 2213.3 512.8 C2215.6 518.1 2218.0 525.5 2220.3 532.9 C2222.6 540.3 2225.2 547.0 2227.2 557.0 C2229.2 567.1 2230.9 580.5 2232.4 593.2 C2233.8 606.0 2234.7 620.1 2235.8 633.5 C2237.0 646.9 2238.1 660.3 2239.3 673.7 C2240.4 687.1 2241.6 701.9 2242.7 714.0 C2243.9 726.0 2245.1 737.5 2246.2 746.2 C2247.4 754.8 2247.7 752.6 2249.7 766.0 C2251.7 779.4 2255.7 808.9 2258.3 826.4 C2260.9 843.8 2262.9 856.5 2265.2 870.6 C2267.5 884.7 2269.9 896.1 2272.2 910.9 C2274.5 925.6 2276.8 941.0 2279.1 959.2 C2281.4 977.3 2284.0 1001.4 2286.0 1019.5 C2288.0 1037.6 2289.5 1053.7 2291.2 1067.8 C2292.9 1081.9 2294.6 1096.0 2296.4 1104.0 C2298.1 1112.1 2299.5 1113.7 2301.6 1116.1 C2303.6 1118.4 2306.2 1116.4 2308.5 1118.1 C2310.8 1119.8 2313.3 1123.8 2315.4 1126.2 C2317.5 1128.5 2319.0 1132.5 2321.1 1132.2 C2323.2 1131.9 2325.2 1128.8 2328.0 1124.1 C2330.9 1119.4 2335.5 1112.7 2338.4 1104.0 C2341.3 1095.3 2343.0 1084.6 2345.3 1071.8 C2347.6 1059.1 2350.2 1041.0 2352.3 1027.6 C2354.3 1014.2 2354.9 1007.8 2357.5 991.3 C2360.0 974.9 2364.7 941.8 2367.6 929.0 C2370.5 916.2 2372.4 915.0 2374.8 914.6 C2377.2 914.2 2379.6 919.0 2381.9 926.6 C2384.3 934.2 2386.7 949.0 2389.1 960.1 C2391.5 971.3 2393.9 981.7 2396.3 993.6 C2398.7 1005.6 2401.1 1024.4 2403.5 1031.9 C2405.9 1039.5 2408.3 1039.1 2410.7 1039.1 C2413.1 1039.1 2415.1 1033.1 2417.9 1031.9 C2420.7 1030.8 2425.8 1031.9 2427.4 1031.9" fill="none" stroke="#ed1c24" stroke-width="7" stroke-linejoin="round" stroke-linecap="round"/>
<g stroke="#000" stroke-width="6.8" fill="none" stroke-linecap="butt">
<line x1="409.6" y1="312.5" x2="409.6" y2="1818.1"/>
<line x1="406.2" y1="1814.7" x2="2431" y2="1814.7"/>
<line x1="379.6" y1="1735.0" x2="409.6" y2="1735.0"/>
<line x1="394.6" y1="1577.0" x2="409.6" y2="1577.0"/>
<line x1="379.6" y1="1418.9" x2="409.6" y2="1418.9"/>
<line x1="394.6" y1="1260.8" x2="409.6" y2="1260.8"/>
<line x1="379.6" y1="1102.8" x2="409.6" y2="1102.8"/>
<line x1="394.6" y1="944.8" x2="409.6" y2="944.8"/>
<line x1="379.6" y1="786.7" x2="409.6" y2="786.7"/>
<line x1="394.6" y1="628.7" x2="409.6" y2="628.7"/>
<line x1="379.6" y1="470.6" x2="409.6" y2="470.6"/>
<line x1="394.6" y1="312.5" x2="409.6" y2="312.5"/>
<line x1="409.2" y1="1814.7" x2="409.2" y2="1846.7"/>
<line x1="549.4" y1="1814.7" x2="549.4" y2="1831.2"/>
<line x1="689.6" y1="1814.7" x2="689.6" y2="1846.7"/>
<line x1="829.8" y1="1814.7" x2="829.8" y2="1831.2"/>
<line x1="970.0" y1="1814.7" x2="970.0" y2="1846.7"/>
<line x1="1110.2" y1="1814.7" x2="1110.2" y2="1831.2"/>
<line x1="1250.4" y1="1814.7" x2="1250.4" y2="1846.7"/>
<line x1="1390.6" y1="1814.7" x2="1390.6" y2="1831.2"/>
<line x1="1530.8" y1="1814.7" x2="1530.8" y2="1846.7"/>
<line x1="1671.0" y1="1814.7" x2="1671.0" y2="1831.2"/>
<line x1="1811.2" y1="1814.7" x2="1811.2" y2="1846.7"/>
<line x1="1951.4" y1="1814.7" x2="1951.4" y2="1831.2"/>
<line x1="2091.6" y1="1814.7" x2="2091.6" y2="1846.7"/>
<line x1="2231.8" y1="1814.7" x2="2231.8" y2="1831.2"/>
<line x1="2372.0" y1="1814.7" x2="2372.0" y2="1846.7"/>
</g>
<g font-family="'Liberation Sans', Arial, Helvetica, sans-serif" font-size="84.3" fill="#000" stroke="#fff" stroke-width="1.4" text-anchor="end">
<text x="361.1" y="1758.0">0</text>
<text x="361.1" y="1441.9">20</text>
<text x="361.1" y="1125.8">40</text>
<text x="361.1" y="809.7">60</text>
<text x="361.1" y="493.6">80</text>
</g>
<g font-family="'Liberation Sans', Arial, Helvetica, sans-serif" font-size="84.3" fill="#000" stroke="#fff" stroke-width="1.4" text-anchor="middle">
<text x="409.2" y="1927.8">4000</text>
<text x="689.6" y="1927.8">3500</text>
<text x="970.0" y="1927.8">3000</text>
<text x="1250.4" y="1927.8">2500</text>
<text x="1530.8" y="1927.8">2000</text>
<text x="1811.2" y="1927.8">1500</text>
<text x="2091.6" y="1927.8">1000</text>
<text x="2372.0" y="1927.8">500</text>
</g>
<g stroke="#f26522" stroke-width="10" fill="none" stroke-linecap="butt" stroke-linejoin="miter">
<path d="M1550.7 377.2 L1550.7 364.5 L1599.5 364.5"/>
<path d="M2352.7 364.5 L2418.2 364.5 L2418.2 386.2"/>
<line x1="1668.2" y1="364.5" x2="1736.8" y2="364.5"/>
<line x1="1805.4" y1="364.5" x2="1874.0" y2="364.5"/>
<line x1="1942.6" y1="364.5" x2="2011.2" y2="364.5"/>
<line x1="2079.8" y1="364.5" x2="2148.4" y2="364.5"/>
<line x1="2217.0" y1="364.5" x2="2285.6" y2="364.5"/>
<line x1="2418.2" y1="455.9" x2="2418.2" y2="524.5"/>
<line x1="2418.2" y1="593.1" x2="2418.2" y2="661.7"/>
<line x1="2418.2" y1="730.3" x2="2418.2" y2="798.9"/>
<line x1="2418.2" y1="867.5" x2="2418.2" y2="936.1"/>
<line x1="2418.2" y1="1004.7" x2="2418.2" y2="1073.3"/>
<line x1="2418.2" y1="1141.9" x2="2418.2" y2="1210.5"/>
<line x1="2418.2" y1="1279.1" x2="2418.2" y2="1347.7"/>
<line x1="2418.2" y1="1416.3" x2="2418.2" y2="1484.9"/>
<line x1="2418.2" y1="1553.5" x2="2418.2" y2="1622.1"/>
<line x1="2418.2" y1="1690.7" x2="2418.2" y2="1759.3"/>
<line x1="1550.7" y1="443.6" x2="1550.7" y2="512.4"/>
<line x1="1550.7" y1="581.0" x2="1550.7" y2="649.8"/>
<line x1="1550.7" y1="718.4" x2="1550.7" y2="787.2"/>
<line x1="1550.7" y1="855.8" x2="1550.7" y2="924.6"/>
<line x1="1550.7" y1="993.2" x2="1550.7" y2="1062.0"/>
<line x1="1550.7" y1="1130.6" x2="1550.7" y2="1199.4"/>
<line x1="1550.7" y1="1268.0" x2="1550.7" y2="1336.8"/>
<line x1="1550.7" y1="1405.4" x2="1550.7" y2="1474.2"/>
<line x1="1550.7" y1="1542.8" x2="1550.7" y2="1611.6"/>
<line x1="1550.7" y1="1680.2" x2="1550.7" y2="1749.0"/>
<line x1="1602.7" y1="1755.7" x2="1671.0" y2="1755.7"/>
<line x1="1739.9" y1="1755.7" x2="1808.2" y2="1755.7"/>
<line x1="1877.1" y1="1755.7" x2="1945.4" y2="1755.7"/>
<line x1="2014.3" y1="1755.7" x2="2082.6" y2="1755.7"/>
<line x1="2151.5" y1="1755.7" x2="2219.8" y2="1755.7"/>
<line x1="2288.7" y1="1755.7" x2="2357.0" y2="1755.7"/>
</g>
<line x1="840.4" y1="296.8" x2="840.4" y2="1790.0" stroke="#000" stroke-width="6.2" stroke-dasharray="6.2 24.10"/>
<line x1="976.9" y1="297.8" x2="976.9" y2="1790.0" stroke="#000" stroke-width="6.2" stroke-dasharray="6.2 24.10"/>
<line x1="2110.0" y1="295.5" x2="2110.0" y2="1791.0" stroke="#000" stroke-width="6.2" stroke-dasharray="6.2 24.10"/>
<line x1="2293.5" y1="299.0" x2="2293.5" y2="1797.0" stroke="#000" stroke-width="6.2" stroke-dasharray="6.2 24.10"/>
<path d="M424.0 3011.7 C427.4 3013.1 438.2 3017.1 444.3 3019.8 C450.3 3022.5 451.0 3023.5 460.4 3027.9 C469.9 3032.3 490.1 3040.0 500.9 3046.1 C511.6 3052.2 518.4 3058.2 525.1 3064.3 C531.9 3070.4 534.6 3075.1 541.3 3082.5 C548.0 3089.9 557.5 3098.3 565.6 3108.8 C573.6 3119.2 582.4 3133.7 589.8 3145.2 C597.2 3156.6 604.0 3166.7 610.0 3177.5 C616.1 3188.3 621.0 3197.8 626.2 3209.8 C631.4 3221.9 637.1 3237.9 641.2 3250.0 C645.2 3262.1 646.2 3269.5 650.5 3282.3 C654.7 3295.1 661.9 3312.0 666.6 3326.8 C671.4 3341.6 674.7 3355.1 678.8 3371.3 C682.8 3387.5 686.8 3405.0 690.9 3423.9 C694.9 3442.7 699.0 3466.3 703.0 3484.5 C707.1 3502.7 710.4 3516.8 715.2 3533.0 C719.9 3549.2 725.6 3567.1 731.3 3581.5 C737.1 3596.0 743.5 3615.9 749.5 3620.0 C755.6 3624.0 762.0 3616.2 767.7 3605.8 C773.4 3595.4 779.2 3573.5 783.9 3557.3 C788.6 3541.1 792.0 3527.6 796.0 3508.8 C800.1 3489.9 803.4 3461.6 808.1 3444.1 C812.9 3426.6 818.9 3413.7 824.3 3403.6 C829.7 3393.5 835.1 3385.4 840.5 3383.4 C845.9 3381.4 851.3 3386.1 856.7 3391.5 C862.1 3396.9 868.1 3409.0 872.8 3415.8 C877.6 3422.5 879.6 3427.2 885.0 3431.9 C890.4 3436.7 898.4 3438.0 905.2 3444.1 C911.9 3450.1 918.7 3458.9 925.4 3468.3 C932.1 3477.8 939.5 3488.5 945.6 3500.7 C951.7 3512.8 957.1 3527.0 961.8 3541.1 C966.5 3555.3 969.9 3570.8 973.9 3585.6 C978.0 3600.4 983.0 3619.3 986.0 3630.1 C989.1 3640.8 989.6 3643.6 992.1 3649.9 C994.6 3656.2 996.6 3665.3 1000.9 3667.8 C1005.1 3670.3 1012.7 3664.5 1017.7 3665.1 C1022.8 3665.7 1027.3 3668.7 1031.2 3671.2 C1035.1 3673.6 1037.4 3677.6 1041.3 3679.6 C1045.2 3681.5 1050.8 3683.0 1054.8 3683.0 C1058.7 3683.0 1061.5 3681.5 1064.9 3679.6 C1068.2 3677.6 1071.6 3673.2 1075.0 3671.2 C1078.4 3669.1 1082.3 3666.6 1085.1 3667.1 C1087.9 3667.7 1089.6 3669.9 1091.8 3674.5 C1094.1 3679.1 1095.8 3692.5 1098.6 3694.7 C1101.4 3697.0 1105.3 3689.1 1108.7 3688.0 C1112.0 3686.9 1114.9 3690.0 1118.8 3688.0 C1122.7 3686.0 1127.8 3679.6 1132.3 3676.2 C1136.8 3672.8 1141.2 3669.8 1145.7 3667.8 C1150.2 3665.8 1155.3 3666.7 1159.2 3664.4 C1163.1 3662.2 1166.0 3659.1 1169.3 3654.3 C1172.7 3649.5 1176.1 3641.1 1179.4 3635.8 C1182.8 3630.4 1185.0 3624.2 1189.5 3622.3 C1194.0 3620.5 1201.9 3625.8 1206.4 3624.7 C1210.9 3623.5 1212.6 3618.5 1216.5 3615.6 C1220.4 3612.6 1225.5 3607.7 1230.0 3607.1 C1234.5 3606.6 1239.0 3609.4 1243.5 3612.2 C1247.9 3615.0 1251.9 3619.8 1256.9 3624.0 C1262.0 3628.2 1268.7 3634.1 1273.8 3637.5 C1278.8 3640.8 1282.8 3643.9 1287.3 3644.2 C1291.7 3644.5 1296.2 3640.8 1300.7 3639.2 C1305.2 3637.5 1310.8 3633.3 1314.2 3634.1 C1317.6 3634.9 1317.6 3638.6 1320.9 3644.2 C1324.3 3649.8 1330.5 3663.3 1334.4 3667.8 C1338.4 3672.3 1341.2 3669.2 1344.5 3671.2 C1347.9 3673.1 1351.3 3674.0 1354.6 3679.6 C1358.0 3685.2 1361.4 3694.5 1364.7 3704.9 C1368.1 3715.2 1371.5 3730.7 1374.9 3741.9 C1378.2 3753.1 1381.0 3764.4 1385.0 3772.2 C1388.9 3780.1 1393.9 3787.7 1398.4 3789.1 C1402.9 3790.5 1408.3 3784.0 1411.9 3780.7 C1415.5 3777.3 1417.5 3772.2 1420.0 3768.9 C1422.5 3765.5 1423.4 3760.4 1426.7 3760.4 C1430.1 3760.4 1434.6 3765.5 1440.2 3768.9 C1445.8 3772.2 1454.0 3778.5 1460.4 3780.7 C1466.9 3782.8 1472.8 3779.1 1479.0 3781.7 C1485.1 3784.2 1491.9 3795.7 1497.5 3795.8 C1503.1 3795.9 1507.6 3782.1 1512.7 3782.3 C1517.7 3782.6 1521.9 3793.6 1527.8 3797.5 C1533.7 3801.4 1540.7 3803.7 1548.0 3805.9 C1555.3 3808.2 1564.3 3811.3 1571.6 3811.0 C1578.9 3810.7 1585.1 3805.9 1591.8 3804.2 C1598.6 3802.6 1606.4 3804.0 1612.0 3800.9 C1617.7 3797.8 1621.0 3795.0 1625.5 3785.7 C1630.0 3776.4 1634.5 3760.4 1639.0 3745.3 C1643.5 3730.1 1648.5 3712.7 1652.5 3694.7 C1656.4 3676.8 1659.5 3652.3 1662.6 3637.5 C1665.7 3622.6 1668.2 3607.7 1671.0 3605.5 C1673.8 3603.2 1676.3 3616.1 1679.4 3624.0 C1682.5 3631.9 1686.2 3647.6 1689.5 3652.6 C1692.9 3657.7 1696.3 3658.5 1699.6 3654.3 C1703.0 3650.1 1706.4 3639.7 1709.8 3627.4 C1713.1 3615.0 1716.5 3594.8 1719.9 3580.2 C1723.2 3565.6 1726.0 3553.2 1730.0 3539.8 C1733.9 3526.3 1739.5 3512.8 1743.5 3499.3 C1747.4 3485.8 1750.8 3471.0 1753.6 3458.9 C1756.4 3446.8 1757.5 3426.3 1760.3 3426.9 C1763.1 3427.4 1767.0 3446.8 1770.4 3462.3 C1773.8 3477.7 1777.1 3505.5 1780.5 3519.5 C1783.9 3533.6 1787.3 3540.9 1790.6 3546.5 C1794.0 3552.1 1797.4 3553.8 1800.7 3553.2 C1804.1 3552.7 1806.9 3552.7 1810.8 3543.1 C1814.8 3533.6 1820.4 3507.5 1824.3 3496.0 C1828.2 3484.4 1830.5 3476.3 1834.4 3474.1 C1838.4 3471.8 1843.4 3476.6 1847.9 3482.5 C1852.4 3488.4 1857.4 3498.8 1861.4 3509.4 C1865.3 3520.1 1867.6 3535.3 1871.5 3546.5 C1875.4 3557.7 1881.0 3567.3 1885.0 3576.8 C1888.9 3586.4 1891.7 3592.5 1895.1 3603.8 C1898.4 3615.0 1901.8 3634.1 1905.2 3644.2 C1908.5 3654.3 1912.8 3661.3 1915.3 3664.4 C1917.8 3667.5 1918.1 3666.1 1920.0 3662.7 C1921.9 3659.4 1923.9 3651.2 1926.7 3644.2 C1929.5 3637.2 1933.5 3624.6 1936.8 3620.6 C1940.2 3616.7 1943.6 3618.4 1947.0 3620.6 C1950.3 3622.9 1953.7 3627.9 1957.1 3634.1 C1960.4 3640.3 1963.8 3649.8 1967.2 3657.7 C1970.5 3665.5 1973.9 3675.9 1977.3 3681.3 C1980.6 3686.6 1984.0 3690.3 1987.4 3689.7 C1990.8 3689.1 1994.1 3681.0 1997.5 3677.9 C2000.9 3674.8 2003.7 3671.7 2007.6 3671.2 C2011.5 3670.6 2016.6 3672.8 2021.1 3674.5 C2025.6 3676.2 2028.9 3679.0 2034.6 3681.3 C2040.2 3683.5 2048.0 3685.8 2054.8 3688.0 C2061.5 3690.3 2069.4 3692.5 2075.0 3694.7 C2080.6 3697.0 2084.5 3698.1 2088.5 3701.5 C2092.4 3704.9 2094.6 3710.5 2098.6 3715.0 C2102.5 3719.5 2106.4 3726.2 2112.0 3728.4 C2117.7 3730.7 2127.2 3727.3 2132.3 3728.4 C2137.3 3729.6 2138.4 3731.2 2142.4 3735.2 C2146.3 3739.1 2151.4 3751.5 2155.8 3752.0 C2160.3 3752.6 2164.8 3743.0 2169.3 3738.5 C2173.8 3734.1 2178.0 3728.2 2182.8 3725.1 C2187.6 3722.0 2193.5 3719.2 2198.0 3720.0 C2202.5 3720.9 2205.5 3727.3 2209.8 3730.1 C2214.0 3732.9 2218.7 3737.1 2223.2 3736.9 C2227.7 3736.6 2231.7 3731.5 2236.7 3728.4 C2241.8 3725.3 2247.9 3720.9 2253.6 3718.3 C2259.2 3715.8 2265.4 3714.4 2270.4 3713.3 C2275.5 3712.2 2278.8 3713.8 2283.9 3711.6 C2288.9 3709.3 2295.1 3703.2 2300.7 3699.8 C2306.3 3696.4 2312.5 3691.7 2317.6 3691.4 C2322.6 3691.1 2326.6 3696.1 2331.1 3698.1 C2335.5 3700.1 2339.5 3704.0 2344.5 3703.2 C2349.6 3702.3 2356.9 3694.5 2361.4 3693.1 C2365.9 3691.7 2367.8 3694.2 2371.5 3694.7 C2375.1 3695.3 2381.3 3696.1 2383.3 3696.4" fill="none" stroke="#0a0a0a" stroke-width="7.5" stroke-linejoin="round" stroke-linecap="round"/>
<path d="M423.4 2995.8 C428.5 2993.8 443.2 2987.9 453.9 2983.9 C464.6 2979.9 476.5 2975.7 487.8 2972.0 C499.1 2968.4 509.3 2964.7 521.7 2961.9 C534.1 2959.0 551.1 2956.9 562.4 2955.1 C573.7 2953.3 580.5 2951.6 589.5 2951.0 C598.5 2950.5 608.7 2949.9 616.6 2951.7 C624.5 2953.5 630.2 2956.2 636.9 2961.9 C643.7 2967.5 650.5 2977.1 657.3 2985.6 C664.1 2994.1 672.0 3002.5 677.6 3012.7 C683.3 3022.9 686.7 3031.9 691.2 3046.6 C695.7 3061.3 700.8 3082.8 704.7 3100.8 C708.7 3118.9 711.5 3136.4 714.9 3155.1 C718.3 3173.7 721.7 3196.3 725.1 3212.7 C728.5 3229.1 731.3 3242.1 735.3 3253.4 C739.2 3264.7 743.4 3274.3 748.8 3280.5 C754.2 3286.7 762.4 3290.7 767.5 3290.7 C772.5 3290.7 775.1 3287.9 779.3 3280.5 C783.6 3273.2 787.8 3260.7 792.9 3246.6 C798.0 3232.5 804.7 3208.2 809.8 3195.8 C814.9 3183.3 818.9 3177.7 823.4 3172.0 C827.9 3166.4 832.4 3160.7 836.9 3161.9 C841.5 3163.0 845.4 3172.6 850.5 3178.8 C855.6 3185.0 862.9 3196.9 867.5 3199.2 C872.0 3201.4 873.1 3198.0 877.6 3192.4 C882.1 3186.7 889.5 3172.6 894.6 3165.3 C899.7 3157.9 903.9 3153.4 908.1 3148.3 C912.4 3143.2 916.3 3135.9 920.0 3134.7 C923.7 3133.6 926.8 3137.9 930.2 3141.5 C933.6 3145.2 935.8 3152.8 940.3 3156.8 C944.9 3160.7 952.2 3167.8 957.3 3165.3 C962.4 3162.7 966.9 3146.6 970.8 3141.5 C974.8 3136.4 977.6 3135.0 981.0 3134.7 C984.4 3134.5 987.8 3141.5 991.2 3139.8 C994.6 3138.1 998.0 3128.8 1001.4 3124.6 C1004.7 3120.3 1008.1 3116.9 1011.5 3114.4 C1014.9 3111.9 1018.3 3112.7 1021.7 3109.3 C1025.1 3105.9 1027.9 3102.8 1031.9 3094.1 C1035.8 3085.3 1041.5 3063.6 1045.4 3056.8 C1049.4 3050.0 1052.8 3053.4 1055.6 3053.4 C1058.4 3053.4 1060.1 3057.6 1062.4 3056.8 C1064.6 3055.9 1066.3 3052.0 1069.2 3048.3 C1072.0 3044.6 1075.9 3035.6 1079.3 3034.7 C1082.7 3033.9 1086.4 3038.7 1089.5 3043.2 C1092.6 3047.7 1095.1 3061.9 1098.0 3061.9 C1100.8 3061.9 1103.3 3050.8 1106.4 3043.2 C1109.5 3035.6 1113.8 3022.0 1116.6 3016.1 C1119.4 3010.2 1120.6 3006.5 1123.4 3007.6 C1126.2 3008.8 1130.2 3015.0 1133.6 3022.9 C1136.9 3030.8 1140.3 3048.3 1143.7 3055.1 C1147.1 3061.9 1150.2 3061.5 1153.9 3063.6 C1157.6 3065.6 1161.8 3068.8 1165.8 3067.6 C1169.7 3066.5 1172.3 3061.4 1177.6 3056.8 C1183.0 3052.1 1191.2 3049.4 1198.0 3039.8 C1204.7 3030.2 1213.2 3010.5 1218.3 2999.2 C1223.4 2987.9 1224.8 2982.8 1228.5 2972.0 C1232.1 2961.3 1236.4 2940.8 1240.3 2934.7 C1244.3 2928.6 1247.4 2934.6 1252.2 2935.4 C1257.0 2936.3 1264.1 2935.4 1269.2 2939.8 C1274.2 2944.2 1278.2 2953.7 1282.7 2961.9 C1287.2 2970.1 1292.3 2980.5 1296.3 2989.0 C1300.2 2997.5 1301.9 3005.4 1306.4 3012.7 C1311.0 3020.1 1318.9 3025.1 1323.4 3033.1 C1327.9 3041.0 1329.6 3049.4 1333.6 3060.2 C1337.5 3070.9 1343.2 3091.8 1347.1 3097.5 C1351.1 3103.1 1354.5 3095.8 1357.3 3094.1 C1360.1 3092.4 1361.2 3083.9 1364.1 3087.3 C1366.9 3090.7 1370.8 3100.8 1374.2 3114.4 C1377.6 3128.0 1381.6 3149.4 1384.4 3168.6 C1387.2 3187.9 1388.9 3209.9 1391.2 3229.7 C1393.4 3249.4 1395.6 3271.5 1398.0 3287.3 C1400.3 3303.0 1402.9 3311.8 1405.2 3324.1 C1407.5 3336.4 1409.4 3348.5 1411.9 3361.2 C1414.4 3373.8 1416.9 3390.8 1420.3 3400.0 C1423.7 3409.2 1427.7 3411.5 1432.4 3416.2 C1437.1 3420.9 1441.8 3424.9 1448.6 3428.3 C1455.3 3431.7 1465.4 3434.4 1472.8 3436.4 C1480.2 3438.4 1486.7 3440.1 1493.1 3440.4 C1499.5 3440.8 1505.2 3436.7 1511.2 3438.4 C1517.3 3440.1 1523.7 3446.8 1529.4 3450.5 C1535.2 3454.2 1540.2 3459.6 1545.6 3460.6 C1551.0 3461.7 1556.4 3460.6 1561.8 3456.6 C1567.2 3452.6 1572.6 3444.5 1578.0 3436.4 C1583.3 3428.3 1589.6 3415.6 1594.1 3408.1 C1598.7 3400.6 1601.2 3399.3 1605.3 3391.5 C1609.4 3383.7 1614.9 3372.4 1618.8 3361.2 C1622.7 3350.0 1625.5 3335.9 1628.9 3324.1 C1632.3 3312.3 1634.3 3302.8 1639.0 3290.4 C1643.7 3278.1 1649.7 3258.4 1657.3 3250.0 C1664.9 3241.6 1676.5 3240.7 1684.4 3239.8 C1692.3 3239.0 1698.5 3241.5 1704.7 3244.9 C1711.0 3248.3 1717.2 3254.2 1721.7 3260.2 C1726.2 3266.1 1728.2 3274.9 1731.9 3280.5 C1735.5 3286.2 1740.3 3295.8 1743.7 3294.1 C1747.1 3292.4 1749.7 3281.1 1752.2 3270.3 C1754.7 3259.6 1756.2 3244.9 1759.0 3229.7 C1761.8 3214.4 1765.8 3192.4 1769.2 3178.8 C1772.5 3165.3 1775.4 3159.0 1779.3 3148.3 C1783.3 3137.6 1788.4 3124.6 1792.9 3114.4 C1797.4 3104.2 1801.4 3094.4 1806.4 3087.3 C1811.5 3080.2 1819.4 3073.4 1823.4 3072.0 C1827.3 3070.6 1826.8 3071.8 1830.2 3078.8 C1833.6 3085.9 1839.2 3098.9 1843.7 3114.4 C1848.2 3129.9 1853.9 3156.2 1857.3 3172.0 C1860.7 3187.9 1861.2 3198.6 1864.1 3209.3 C1866.9 3220.1 1870.8 3234.2 1874.2 3236.4 C1877.6 3238.7 1880.5 3228.5 1884.4 3222.9 C1888.4 3217.2 1894.0 3206.8 1898.0 3202.5 C1901.9 3198.3 1904.5 3197.7 1908.1 3197.5 C1911.8 3197.2 1916.3 3199.7 1920.0 3200.8 C1923.7 3202.0 1925.6 3202.0 1930.2 3204.2 C1934.7 3206.5 1941.5 3206.8 1947.1 3214.4 C1952.7 3222.0 1958.9 3240.7 1963.7 3250.0 C1968.5 3259.3 1971.8 3262.1 1975.8 3270.2 C1979.8 3278.3 1983.9 3289.1 1987.9 3298.5 C1992.0 3308.0 1996.4 3320.4 2000.1 3326.8 C2003.8 3333.2 2006.5 3335.2 2010.2 3336.9 C2013.9 3338.6 2017.9 3334.6 2022.3 3336.9 C2026.7 3339.3 2031.4 3345.4 2036.4 3351.1 C2041.5 3356.8 2047.2 3362.5 2052.6 3371.3 C2058.0 3380.1 2063.4 3394.2 2068.8 3403.6 C2074.2 3413.1 2078.9 3423.9 2085.0 3427.9 C2091.0 3431.9 2097.8 3428.9 2105.2 3427.9 C2112.6 3426.9 2121.4 3424.5 2129.4 3421.8 C2137.5 3419.1 2144.9 3415.8 2153.7 3411.7 C2162.5 3407.7 2173.9 3402.3 2182.0 3397.6 C2190.1 3392.9 2195.9 3387.8 2202.2 3383.4 C2208.6 3379.0 2214.8 3373.6 2220.0 3371.3 C2225.2 3369.0 2229.2 3370.5 2233.3 3369.6 C2237.5 3368.8 2241.8 3365.4 2245.1 3366.2 C2248.5 3367.1 2250.5 3371.0 2253.6 3374.7 C2256.6 3378.3 2259.7 3383.6 2263.7 3388.1 C2267.6 3392.6 2272.7 3396.6 2277.1 3401.6 C2281.6 3406.7 2286.7 3412.1 2290.6 3418.5 C2294.5 3424.9 2296.2 3434.1 2300.5 3440.0 C2304.8 3446.0 2309.9 3451.1 2316.7 3454.2 C2323.4 3457.2 2333.5 3455.9 2340.9 3458.2 C2348.3 3460.6 2355.7 3464.3 2361.1 3468.3 C2366.5 3472.4 2371.2 3480.1 2373.3 3482.5" fill="none" stroke="#14837f" stroke-width="6.8" stroke-linejoin="round" stroke-linecap="round"/>
<path d="M423.4 2834.7 C428.5 2833.1 443.2 2828.0 453.9 2824.6 C464.6 2821.2 476.5 2817.5 487.8 2814.4 C499.1 2811.3 510.4 2808.2 521.7 2805.9 C533.0 2803.7 544.3 2802.4 555.6 2800.8 C566.9 2799.3 581.0 2798.0 589.5 2796.4 C598.0 2794.9 600.2 2792.9 606.4 2791.7 C612.7 2790.5 620.6 2788.6 626.8 2789.0 C633.0 2789.4 637.5 2790.6 643.7 2794.1 C649.9 2797.6 656.2 2807.0 664.1 2810.0 C672.0 2813.0 685.0 2810.2 691.2 2812.0 C697.4 2813.9 696.8 2814.3 701.4 2821.2 C705.9 2828.1 712.7 2840.7 718.3 2853.4 C724.0 2866.1 729.6 2884.5 735.3 2897.5 C740.9 2910.5 746.6 2922.9 752.2 2931.4 C757.9 2939.8 764.6 2946.6 769.2 2948.3 C773.7 2950.0 775.4 2944.4 779.3 2941.5 C783.3 2938.7 787.8 2939.8 792.9 2931.4 C798.0 2922.9 803.6 2903.1 809.8 2890.7 C816.0 2878.2 823.4 2865.3 830.2 2856.8 C836.9 2848.3 843.7 2841.5 850.5 2839.8 C857.3 2838.1 864.1 2846.0 870.8 2846.6 C877.6 2847.2 885.5 2844.9 891.2 2843.2 C896.8 2841.5 899.9 2838.1 904.7 2836.4 C909.5 2834.7 915.2 2834.3 920.0 2833.1 C924.8 2831.8 930.2 2829.5 933.6 2829.0 C936.9 2828.4 938.1 2830.4 940.3 2829.7 C942.6 2828.9 944.3 2827.1 947.1 2824.6 C949.9 2822.0 952.8 2818.1 957.3 2814.4 C961.8 2810.7 970.0 2802.8 974.2 2802.5 C978.5 2802.3 979.9 2809.2 982.7 2812.7 C985.5 2816.2 987.5 2822.1 991.2 2823.6 C994.9 2825.0 1000.2 2822.4 1004.7 2821.2 C1009.3 2819.9 1014.4 2819.8 1018.3 2816.1 C1022.3 2812.4 1024.2 2805.4 1028.5 2799.2 C1032.7 2792.9 1039.2 2780.5 1043.7 2778.8 C1048.2 2777.1 1051.9 2786.2 1055.6 2789.0 C1059.3 2791.8 1062.4 2796.0 1065.8 2795.8 C1069.2 2795.5 1072.3 2789.5 1075.9 2787.3 C1079.6 2785.0 1084.7 2781.4 1087.8 2782.2 C1090.9 2783.1 1092.9 2788.1 1094.6 2792.4 C1096.3 2796.6 1096.6 2808.8 1098.0 2807.6 C1099.4 2806.5 1101.1 2791.8 1103.1 2785.6 C1105.0 2779.4 1106.4 2774.0 1109.8 2770.3 C1113.2 2766.7 1118.3 2764.1 1123.4 2763.6 C1128.5 2763.0 1134.7 2767.2 1140.3 2766.9 C1146.0 2766.7 1151.1 2763.2 1157.3 2761.9 C1163.5 2760.6 1170.6 2759.6 1177.6 2759.2 C1184.7 2758.7 1192.9 2761.6 1199.7 2759.2 C1206.4 2756.7 1211.2 2748.0 1218.3 2744.2 C1225.4 2740.5 1235.8 2736.3 1242.0 2736.4 C1248.2 2736.6 1251.1 2741.2 1255.6 2744.9 C1260.1 2748.6 1264.6 2752.0 1269.2 2758.5 C1273.7 2765.0 1276.5 2775.1 1282.7 2783.9 C1288.9 2792.7 1299.7 2804.5 1306.4 2811.0 C1313.2 2817.5 1317.9 2816.4 1323.4 2822.9 C1328.9 2829.4 1333.4 2842.1 1339.4 2850.0 C1345.5 2857.9 1354.2 2862.8 1359.6 2870.2 C1365.0 2877.6 1368.4 2884.4 1371.8 2894.5 C1375.1 2904.6 1377.1 2919.4 1379.8 2930.9 C1382.5 2942.3 1385.2 2952.4 1387.9 2963.2 C1390.6 2974.0 1393.3 2984.8 1396.0 2995.6 C1398.7 3006.3 1400.7 3017.8 1404.1 3027.9 C1407.5 3038.0 1411.5 3047.4 1416.2 3056.2 C1420.9 3065.0 1427.0 3073.7 1432.4 3080.5 C1437.8 3087.2 1443.2 3091.9 1448.6 3096.6 C1454.0 3101.4 1459.4 3105.4 1464.7 3108.8 C1470.1 3112.1 1474.2 3113.5 1480.9 3116.8 C1487.7 3120.2 1496.4 3127.0 1505.2 3129.0 C1513.9 3131.0 1524.7 3130.3 1533.5 3129.0 C1542.2 3127.6 1551.0 3124.9 1557.7 3120.9 C1564.5 3116.8 1568.5 3110.8 1573.9 3104.7 C1579.3 3098.7 1584.7 3089.2 1590.1 3084.5 C1595.5 3079.8 1601.3 3079.1 1606.3 3076.4 C1611.2 3073.7 1615.0 3074.4 1620.0 3068.3 C1625.0 3062.3 1630.1 3049.5 1636.2 3040.0 C1642.2 3030.6 1649.0 3019.5 1656.4 3011.7 C1663.8 3004.0 1672.6 2997.9 1680.6 2993.5 C1688.7 2989.2 1698.2 2985.8 1704.9 2985.4 C1711.6 2985.1 1716.4 2987.8 1721.1 2991.5 C1725.8 2995.2 1728.8 3002.3 1733.2 3007.7 C1737.6 3013.1 1742.6 3025.9 1747.4 3023.9 C1752.1 3021.8 1755.8 3006.3 1761.5 2995.6 C1767.2 2984.8 1775.7 2970.6 1781.7 2959.2 C1787.8 2947.7 1791.8 2939.6 1797.9 2926.8 C1804.0 2914.0 1811.7 2894.5 1818.1 2882.3 C1824.5 2870.2 1830.9 2856.7 1836.3 2854.0 C1841.7 2851.3 1846.1 2856.7 1850.5 2866.2 C1854.8 2875.6 1858.5 2899.2 1862.6 2910.6 C1866.6 2922.1 1870.0 2935.6 1874.7 2934.9 C1879.4 2934.2 1886.2 2912.7 1890.9 2906.6 C1895.6 2900.5 1898.3 2902.2 1903.0 2898.5 C1907.7 2894.8 1912.5 2886.1 1919.2 2884.4 C1925.9 2882.7 1936.0 2883.4 1943.5 2888.4 C1950.9 2893.5 1956.9 2904.9 1963.7 2914.7 C1970.4 2924.5 1977.8 2936.3 1983.9 2947.0 C1990.0 2957.8 1992.4 2969.9 2000.1 2979.4 C2007.7 2988.8 2022.7 2997.6 2029.6 3003.6 C2036.5 3009.7 2037.0 3008.4 2041.7 3015.8 C2046.4 3023.2 2052.5 3037.3 2057.9 3048.1 C2063.3 3058.9 2069.4 3071.7 2074.1 3080.5 C2078.8 3089.2 2080.8 3097.3 2086.2 3100.7 C2091.6 3104.0 2100.4 3102.0 2106.4 3100.7 C2112.5 3099.3 2117.2 3094.3 2122.6 3092.6 C2128.0 3090.9 2133.4 3092.3 2138.8 3090.6 C2144.2 3088.9 2149.5 3084.5 2154.9 3082.5 C2160.3 3080.5 2166.4 3078.1 2171.1 3078.4 C2175.8 3078.8 2177.8 3083.5 2183.2 3084.5 C2188.6 3085.5 2197.4 3086.9 2203.5 3084.5 C2209.5 3082.1 2214.2 3074.4 2219.6 3070.4 C2225.0 3066.3 2230.7 3063.9 2235.8 3060.2 C2240.9 3056.6 2245.8 3049.3 2250.0 3048.5 C2254.2 3047.7 2257.2 3053.2 2260.8 3055.3 C2264.4 3057.3 2268.0 3057.7 2271.6 3060.6 C2275.2 3063.6 2278.8 3068.3 2282.3 3072.8 C2285.9 3077.3 2289.5 3082.2 2293.1 3087.6 C2296.7 3093.0 2300.5 3099.5 2303.9 3105.1 C2307.3 3110.7 2310.2 3117.9 2313.3 3121.3 C2316.5 3124.7 2319.4 3124.2 2322.8 3125.3 C2326.1 3126.5 2330.0 3126.5 2333.6 3128.0 C2337.2 3129.6 2340.7 3132.3 2344.3 3134.8 C2347.9 3137.2 2352.0 3139.5 2355.1 3142.9 C2358.3 3146.2 2360.5 3150.7 2363.2 3155.0 C2365.9 3159.3 2368.6 3164.0 2371.3 3168.5 C2374.0 3173.0 2377.1 3177.7 2379.4 3181.9 C2381.6 3186.2 2383.4 3191.1 2384.8 3194.1 C2386.1 3197.1 2387.0 3199.0 2387.5 3200.0" fill="none" stroke="#3a53a4" stroke-width="6.8" stroke-linejoin="round" stroke-linecap="round"/>
<path d="M424.0 2654.2 C428.8 2652.2 439.5 2647.1 452.3 2642.1 C465.1 2637.0 486.0 2629.2 500.9 2623.9 C515.7 2618.5 526.5 2614.4 541.3 2609.7 C556.1 2605.0 578.4 2598.6 589.8 2595.6 C601.3 2592.5 602.6 2592.2 610.0 2591.5 C617.4 2590.8 627.5 2589.8 634.3 2591.5 C641.0 2593.2 645.1 2597.9 650.5 2601.6 C655.9 2605.3 659.2 2611.3 666.6 2613.7 C674.0 2616.2 688.9 2614.9 694.9 2616.6 C701.0 2618.3 697.6 2615.2 703.0 2623.9 C708.4 2632.5 720.5 2654.9 727.3 2668.3 C734.0 2681.8 736.4 2687.2 743.5 2704.7 C750.5 2722.2 762.0 2764.7 769.7 2773.5 C777.5 2782.2 784.9 2765.4 790.0 2757.3 C795.0 2749.2 795.7 2736.4 800.1 2724.9 C804.4 2713.5 810.2 2701.4 816.2 2688.5 C822.3 2675.7 830.4 2658.9 836.4 2648.1 C842.5 2637.3 846.6 2630.3 852.6 2623.9 C858.7 2617.5 865.4 2614.4 872.8 2609.7 C880.2 2605.0 888.3 2599.6 897.1 2595.6 C905.9 2591.5 918.3 2586.1 925.4 2585.4 C932.5 2584.8 935.5 2592.2 939.5 2591.5 C943.6 2590.8 943.9 2585.4 949.7 2581.4 C955.4 2577.4 966.5 2566.2 973.9 2567.3 C981.3 2568.3 989.4 2583.8 994.1 2587.5 C998.8 2591.2 997.9 2590.8 1002.2 2589.5 C1006.5 2588.1 1014.5 2584.3 1020.0 2579.4 C1025.5 2574.5 1031.0 2564.3 1035.3 2560.2 C1039.5 2556.0 1041.5 2554.4 1045.4 2554.4 C1049.4 2554.4 1055.0 2559.4 1059.0 2560.2 C1062.9 2561.0 1065.8 2560.6 1069.2 2559.2 C1072.5 2557.7 1075.9 2553.4 1079.3 2551.7 C1082.7 2550.0 1086.9 2546.7 1089.5 2549.0 C1092.0 2551.2 1093.2 2559.2 1094.6 2565.3 C1096.0 2571.4 1096.6 2586.7 1098.0 2585.6 C1099.4 2584.5 1101.4 2565.8 1103.1 2558.5 C1104.7 2551.1 1104.7 2546.9 1108.1 2541.5 C1111.5 2536.2 1118.0 2529.7 1123.4 2526.3 C1128.8 2522.9 1134.7 2523.4 1140.3 2521.2 C1146.0 2518.9 1152.2 2515.3 1157.3 2512.7 C1162.4 2510.2 1165.8 2507.2 1170.8 2505.9 C1175.9 2504.6 1182.1 2506.6 1187.8 2504.9 C1193.4 2503.2 1198.5 2499.5 1204.7 2495.8 C1211.0 2492.0 1218.9 2485.4 1225.1 2482.2 C1231.3 2479.0 1236.4 2477.2 1242.0 2476.4 C1247.7 2475.7 1253.3 2477.2 1259.0 2477.8 C1264.6 2478.4 1270.3 2478.8 1275.9 2479.8 C1281.6 2480.8 1286.7 2482.1 1292.9 2483.9 C1299.1 2485.7 1307.6 2486.4 1313.2 2490.7 C1318.9 2494.9 1322.8 2503.2 1326.8 2509.3 C1330.7 2515.4 1333.6 2522.8 1336.9 2527.3 C1340.3 2531.8 1343.2 2534.4 1347.1 2536.4 C1351.1 2538.5 1356.7 2537.9 1360.7 2539.8 C1364.6 2541.8 1366.3 2540.7 1370.8 2548.3 C1375.4 2555.9 1382.1 2568.6 1387.8 2585.6 C1393.4 2602.5 1399.4 2631.4 1404.7 2650.0 C1410.1 2668.6 1416.3 2683.9 1420.0 2697.5 C1423.7 2711.0 1424.0 2720.6 1426.8 2731.4 C1429.6 2742.1 1433.6 2753.4 1436.9 2761.9 C1440.3 2770.3 1443.2 2776.3 1447.1 2782.2 C1451.1 2788.1 1456.2 2793.5 1460.7 2797.5 C1465.2 2801.4 1469.7 2803.1 1474.2 2805.9 C1478.8 2808.8 1482.7 2809.9 1487.8 2814.4 C1492.9 2818.9 1499.1 2826.6 1504.7 2833.1 C1510.4 2839.5 1516.6 2848.0 1521.7 2853.4 C1526.8 2858.8 1530.2 2862.7 1535.3 2865.3 C1540.3 2867.8 1546.6 2868.6 1552.2 2868.6 C1557.9 2868.6 1562.9 2867.5 1569.2 2865.3 C1575.4 2863.0 1582.7 2858.8 1589.5 2855.1 C1596.3 2851.4 1604.7 2847.4 1609.8 2843.2 C1614.9 2839.0 1614.9 2837.6 1620.0 2830.1 C1625.1 2822.5 1633.5 2808.5 1640.2 2797.7 C1647.0 2786.9 1654.4 2775.1 1660.4 2765.4 C1666.5 2755.6 1669.9 2747.2 1676.6 2739.1 C1683.3 2731.0 1693.5 2723.6 1700.9 2716.8 C1708.3 2710.1 1714.3 2704.0 1721.1 2698.7 C1727.8 2693.3 1734.6 2692.3 1741.3 2684.5 C1748.0 2676.8 1754.8 2662.9 1761.5 2652.2 C1768.2 2641.4 1775.0 2630.3 1781.7 2619.8 C1788.5 2609.4 1795.2 2599.3 1801.9 2589.5 C1808.7 2579.7 1816.1 2566.9 1822.2 2561.2 C1828.2 2555.5 1832.9 2554.4 1838.3 2555.1 C1843.7 2555.8 1849.1 2560.5 1854.5 2565.2 C1859.9 2569.9 1865.3 2578.4 1870.7 2583.4 C1876.1 2588.5 1881.5 2590.2 1886.8 2595.6 C1892.2 2600.9 1897.6 2608.4 1903.0 2615.8 C1908.4 2623.2 1914.5 2629.9 1919.2 2640.0 C1923.9 2650.1 1928.0 2663.6 1931.3 2676.4 C1934.7 2689.2 1936.7 2703.4 1939.4 2716.8 C1942.1 2730.3 1944.8 2743.8 1947.5 2757.3 C1950.2 2770.8 1952.9 2785.6 1955.6 2797.7 C1958.3 2809.8 1961.0 2821.3 1963.7 2830.1 C1966.4 2838.8 1967.0 2836.6 1971.8 2850.0 C1976.5 2863.4 1985.9 2893.1 1992.0 2910.6 C1998.0 2928.2 2002.8 2941.0 2008.1 2955.1 C2013.5 2969.3 2018.9 2980.7 2024.3 2995.6 C2029.7 3010.4 2035.1 3025.9 2040.5 3044.1 C2045.9 3062.3 2051.9 3086.5 2056.7 3104.7 C2061.4 3122.9 2064.7 3139.1 2068.8 3153.2 C2072.8 3167.4 2076.9 3181.5 2080.9 3189.6 C2085.0 3197.7 2088.3 3199.4 2093.1 3201.8 C2097.8 3204.1 2103.8 3202.1 2109.2 3203.8 C2114.6 3205.5 2120.5 3209.5 2125.4 3211.9 C2130.3 3214.2 2133.8 3218.3 2138.8 3217.9 C2143.7 3217.6 2148.2 3214.6 2154.9 3209.8 C2161.7 3205.1 2172.5 3198.4 2179.2 3189.6 C2185.9 3180.9 2190.0 3170.1 2195.4 3157.3 C2200.8 3144.5 2206.8 3126.3 2211.5 3112.8 C2216.3 3099.3 2219.6 3088.5 2223.7 3076.4 C2227.7 3064.3 2231.4 3051.0 2235.8 3040.0 C2240.2 3029.1 2245.8 3017.0 2250.0 3010.8 C2254.2 3004.6 2257.2 3004.0 2260.8 3002.7 C2264.4 3001.3 2268.4 3000.2 2271.6 3002.7 C2274.7 3005.2 2276.5 3010.8 2279.6 3017.5 C2282.8 3024.3 2286.8 3034.8 2290.4 3043.1 C2294.0 3051.4 2298.1 3060.2 2301.2 3067.4 C2304.4 3074.6 2306.6 3080.4 2309.3 3086.3 C2312.0 3092.1 2314.7 3097.5 2317.4 3102.4 C2320.1 3107.4 2322.8 3112.8 2325.5 3115.9 C2328.2 3119.0 2330.9 3119.9 2333.6 3121.3 C2336.3 3122.6 2338.5 3124.7 2341.6 3124.0 C2344.8 3123.3 2348.8 3119.0 2352.4 3117.3 C2356.0 3115.5 2359.6 3114.1 2363.2 3113.2 C2366.8 3112.3 2370.4 3111.6 2374.0 3111.9 C2377.6 3112.1 2383.0 3114.1 2384.8 3114.6" fill="none" stroke="#ed1c24" stroke-width="6.8" stroke-linejoin="round" stroke-linecap="round"/>
<g stroke="#000" stroke-width="6.8" fill="none" stroke-linecap="butt">
<line x1="422.6" y1="2394" x2="422.6" y2="3860.4"/>
<line x1="419.2" y1="3857.0" x2="2390" y2="3857.0"/>
<line x1="392.6" y1="3823.6" x2="422.6" y2="3823.6"/>
<line x1="406.6" y1="3704.5" x2="422.6" y2="3704.5"/>
<line x1="392.6" y1="3585.4" x2="422.6" y2="3585.4"/>
<line x1="406.6" y1="3466.3" x2="422.6" y2="3466.3"/>
<line x1="392.6" y1="3347.2" x2="422.6" y2="3347.2"/>
<line x1="406.6" y1="3228.1" x2="422.6" y2="3228.1"/>
<line x1="392.6" y1="3109.0" x2="422.6" y2="3109.0"/>
<line x1="406.6" y1="2989.9" x2="422.6" y2="2989.9"/>
<line x1="392.6" y1="2870.8" x2="422.6" y2="2870.8"/>
<line x1="406.6" y1="2751.7" x2="422.6" y2="2751.7"/>
<line x1="392.6" y1="2632.6" x2="422.6" y2="2632.6"/>
<line x1="406.6" y1="2513.5" x2="422.6" y2="2513.5"/>
<line x1="392.6" y1="2394.4" x2="422.6" y2="2394.4"/>
<line x1="422.7" y1="3857.0" x2="422.7" y2="3873.5"/>
<line x1="553.8" y1="3857.0" x2="553.8" y2="3887.5"/>
<line x1="684.8" y1="3857.0" x2="684.8" y2="3873.5"/>
<line x1="815.9" y1="3857.0" x2="815.9" y2="3887.5"/>
<line x1="947.0" y1="3857.0" x2="947.0" y2="3873.5"/>
<line x1="1078.0" y1="3857.0" x2="1078.0" y2="3887.5"/>
<line x1="1209.1" y1="3857.0" x2="1209.1" y2="3873.5"/>
<line x1="1340.2" y1="3857.0" x2="1340.2" y2="3887.5"/>
<line x1="1471.2" y1="3857.0" x2="1471.2" y2="3873.5"/>
<line x1="1602.3" y1="3857.0" x2="1602.3" y2="3887.5"/>
<line x1="1733.4" y1="3857.0" x2="1733.4" y2="3873.5"/>
<line x1="1864.5" y1="3857.0" x2="1864.5" y2="3887.5"/>
<line x1="1995.5" y1="3857.0" x2="1995.5" y2="3873.5"/>
<line x1="2126.6" y1="3857.0" x2="2126.6" y2="3887.5"/>
<line x1="2257.7" y1="3857.0" x2="2257.7" y2="3873.5"/>
<line x1="2388.7" y1="3857.0" x2="2388.7" y2="3887.5"/>
</g>
<g font-family="'Liberation Sans', Arial, Helvetica, sans-serif" font-size="81.3" fill="#000" stroke="#fff" stroke-width="1.4" text-anchor="end">
<text x="375.2" y="3845.6">0</text>
<text x="375.2" y="3607.4">15</text>
<text x="375.2" y="3369.2">30</text>
<text x="375.2" y="3131.0">45</text>
<text x="375.2" y="2892.8">60</text>
<text x="375.2" y="2654.6">75</text>
<text x="375.2" y="2416.4">90</text>
</g>
<g font-family="'Liberation Sans', Arial, Helvetica, sans-serif" font-size="81.3" fill="#000" stroke="#fff" stroke-width="1.4" text-anchor="middle">
<text x="553.8" y="3965">1800</text>
<text x="815.9" y="3965">1600</text>
<text x="1078.0" y="3965">1400</text>
<text x="1340.2" y="3965">1200</text>
<text x="1602.3" y="3965">1000</text>
<text x="1864.5" y="3965">800</text>
<text x="2126.6" y="3965">600</text>
<text x="2388.7" y="3965">400</text>
</g>
<g stroke="#f26522" stroke-width="8.5" fill="none" stroke-linecap="butt" stroke-linejoin="miter">
<path d="M453.3 2441.6 L453.3 2434.0 L505.7 2434.0"/>
<path d="M2362.0 3825.6 L2386.6 3825.6 L2386.6 3796.0"/>
<line x1="573.4" y1="2434.0" x2="641.2" y2="2434.0"/>
<line x1="708.0" y1="2434.0" x2="775.8" y2="2434.0"/>
<line x1="842.6" y1="2434.0" x2="910.4" y2="2434.0"/>
<line x1="977.2" y1="2434.0" x2="1045.0" y2="2434.0"/>
<line x1="1111.8" y1="2434.0" x2="1179.6" y2="2434.0"/>
<line x1="1246.4" y1="2434.0" x2="1314.2" y2="2434.0"/>
<line x1="1381.0" y1="2434.0" x2="1448.8" y2="2434.0"/>
<line x1="1515.6" y1="2434.0" x2="1583.4" y2="2434.0"/>
<line x1="1650.2" y1="2434.0" x2="1718.0" y2="2434.0"/>
<line x1="1784.8" y1="2434.0" x2="1852.6" y2="2434.0"/>
<line x1="1919.4" y1="2434.0" x2="1987.2" y2="2434.0"/>
<line x1="2054.0" y1="2434.0" x2="2121.8" y2="2434.0"/>
<line x1="2188.6" y1="2434.0" x2="2256.4" y2="2434.0"/>
<line x1="2323.2" y1="2434.0" x2="2391.0" y2="2434.0"/>
<line x1="453.3" y1="2508.5" x2="453.3" y2="2576.0"/>
<line x1="453.3" y1="2643.1" x2="453.3" y2="2710.6"/>
<line x1="453.3" y1="2777.7" x2="453.3" y2="2845.2"/>
<line x1="453.3" y1="2912.3" x2="453.3" y2="2979.8"/>
<line x1="453.3" y1="3046.9" x2="453.3" y2="3114.4"/>
<line x1="453.3" y1="3181.5" x2="453.3" y2="3249.0"/>
<line x1="453.3" y1="3316.1" x2="453.3" y2="3383.6"/>
<line x1="453.3" y1="3450.7" x2="453.3" y2="3518.2"/>
<line x1="453.3" y1="3585.3" x2="453.3" y2="3652.8"/>
<line x1="453.3" y1="3719.9" x2="453.3" y2="3787.4"/>
<line x1="475.5" y1="3825.6" x2="542.8" y2="3825.6"/>
<line x1="610.1" y1="3825.6" x2="677.4" y2="3825.6"/>
<line x1="744.7" y1="3825.6" x2="812.0" y2="3825.6"/>
<line x1="879.3" y1="3825.6" x2="946.6" y2="3825.6"/>
<line x1="1013.9" y1="3825.6" x2="1081.2" y2="3825.6"/>
<line x1="1148.5" y1="3825.6" x2="1215.8" y2="3825.6"/>
<line x1="1283.1" y1="3825.6" x2="1350.4" y2="3825.6"/>
<line x1="1417.7" y1="3825.6" x2="1485.0" y2="3825.6"/>
<line x1="1552.3" y1="3825.6" x2="1619.6" y2="3825.6"/>
<line x1="1686.9" y1="3825.6" x2="1754.2" y2="3825.6"/>
<line x1="1821.5" y1="3825.6" x2="1888.8" y2="3825.6"/>
<line x1="1956.1" y1="3825.6" x2="2023.4" y2="3825.6"/>
<line x1="2090.7" y1="3825.6" x2="2158.0" y2="3825.6"/>
<line x1="2225.3" y1="3825.6" x2="2292.6" y2="3825.6"/>
<line x1="2386.6" y1="3661.0" x2="2386.6" y2="3728.0"/>
<line x1="2386.6" y1="3526.4" x2="2386.6" y2="3593.4"/>
<line x1="2386.6" y1="3391.8" x2="2386.6" y2="3458.8"/>
<line x1="2386.6" y1="3257.2" x2="2386.6" y2="3324.2"/>
<line x1="2386.6" y1="3122.6" x2="2386.6" y2="3189.6"/>
<line x1="2386.6" y1="2988.0" x2="2386.6" y2="3055.0"/>
<line x1="2386.6" y1="2853.4" x2="2386.6" y2="2920.4"/>
<line x1="2386.6" y1="2718.8" x2="2386.6" y2="2785.8"/>
<line x1="2386.6" y1="2584.2" x2="2386.6" y2="2651.2"/>
<line x1="2386.6" y1="2449.6" x2="2386.6" y2="2516.6"/>
</g>
<line x1="667.2" y1="2381.0" x2="667.2" y2="3838.0" stroke="#000" stroke-width="6.2" stroke-dasharray="6.2 23.45"/>
<line x1="872.3" y1="2385.5" x2="872.3" y2="3843.0" stroke="#000" stroke-width="6.2" stroke-dasharray="6.2 23.45"/>
<line x1="946.0" y1="2377.5" x2="946.0" y2="3835.0" stroke="#000" stroke-width="6.2" stroke-dasharray="6.2 23.45"/>
<g font-family="'Liberation Sans', Arial, Helvetica, sans-serif" fill="#000">
<text x="36.1" y="131" font-size="157">A</text>
<text x="34.8" y="2291.5" font-size="157">B</text>
<text x="902.3" y="297.2" font-size="130.7">I</text>
<text x="2152.3" y="297.2" font-size="130.7" letter-spacing="-1.3">II</text>
<text x="909.57" y="2118.5" font-size="121" letter-spacing="-3">Wavenumber (cm</text>
<text x="1821.3" y="2056" font-size="72">-</text>
<text x="1841.3" y="2055" font-size="72">1</text>
<text x="1887.5" y="2118.5" font-size="121">)</text>
<text x="910.29" y="4152.3" font-size="117" letter-spacing="-2.4">Wavenumber (cm</text>
<text x="1798.3" y="4091" font-size="69">-</text>
<text x="1817.8" y="4090" font-size="69">1</text>
<text x="1863.75" y="4152.3" font-size="117">)</text>
<text transform="translate(137.1,1592.3) rotate(-90)" font-size="120" letter-spacing="-1.79">% of Transmittance</text>
<text transform="translate(158.3,3638.2) rotate(-90)" font-size="117" letter-spacing="-1.85">% of Transmittance</text>
<text transform="translate(633.4,2407.2) rotate(-90)" font-size="63" stroke="#fff" stroke-width="1.6">ν</text>
<text transform="translate(633.2,2354.1) rotate(-90)" font-size="78.5" letter-spacing="-2.8" stroke="#fff" stroke-width="1.1">C=O</text>
<text transform="translate(935.0,2434.6) rotate(-90)" font-size="63" stroke="#fff" stroke-width="1.6">ν</text>
<text transform="translate(936.3,2382.8) rotate(-90)" font-size="78.5" letter-spacing="-2.8" stroke="#fff" stroke-width="1.1">Py-H</text>
<text transform="translate(896.3,2216.0) rotate(-90)" font-size="48.6">+</text>
</g>
</svg>
</body></html>
